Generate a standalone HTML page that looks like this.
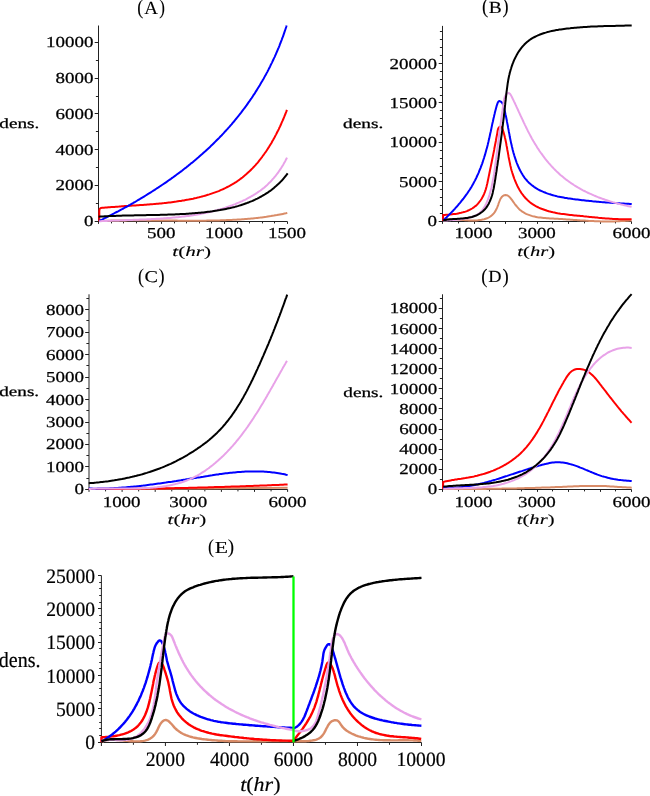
<!DOCTYPE html>
<html><head><meta charset="utf-8"><style>
html,body{margin:0;padding:0;background:#fff;overflow:hidden}
svg{display:block}
text{font-family:"Liberation Serif",serif;font-kerning:none;text-rendering:geometricPrecision;white-space:pre}
svg{will-change:transform}
</style></head><body>
<svg width="650" height="796" viewBox="0 0 650 796">
<rect width="650" height="796" fill="#fff"/>
<path d="M98.50,222.00 V25.50 M98.00,221.50 H287.40" stroke="#222" stroke-width="1" fill="none"/><path d="M94.70,221.50 H98.50 M95.90,203.50 H98.50 M94.70,185.50 H98.50 M95.90,167.50 H98.50 M94.70,149.50 H98.50 M95.90,131.50 H98.50 M94.70,113.50 H98.50 M95.90,96.50 H98.50 M94.70,78.50 H98.50 M95.90,60.50 H98.50 M94.70,42.50 H98.50 M98.50,221.50 V223.90 M111.50,221.50 V223.40 M123.50,221.50 V223.40 M136.50,221.50 V223.40 M148.50,221.50 V223.40 M161.50,221.50 V223.90 M174.50,221.50 V223.40 M186.50,221.50 V223.40 M199.50,221.50 V223.40 M211.50,221.50 V223.40 M224.50,221.50 V223.90 M237.50,221.50 V223.40 M249.50,221.50 V223.40 M262.50,221.50 V223.40 M274.50,221.50 V223.40 M287.50,221.50 V223.90 " stroke="#222" stroke-width="1" fill="none"/>
<path d="M442.50,222.00 V25.90 M442.00,221.50 H631.50" stroke="#222" stroke-width="1" fill="none"/><path d="M438.70,221.50 H442.50 M439.90,213.50 H442.50 M439.90,205.50 H442.50 M439.90,197.50 H442.50 M439.90,189.50 H442.50 M438.70,181.50 H442.50 M439.90,173.50 H442.50 M439.90,166.50 H442.50 M439.90,158.50 H442.50 M439.90,150.50 H442.50 M438.70,142.50 H442.50 M439.90,134.50 H442.50 M439.90,126.50 H442.50 M439.90,118.50 H442.50 M439.90,110.50 H442.50 M438.70,102.50 H442.50 M439.90,95.50 H442.50 M439.90,87.50 H442.50 M439.90,79.50 H442.50 M439.90,71.50 H442.50 M438.70,63.50 H442.50 M439.90,55.50 H442.50 M439.90,47.50 H442.50 M439.90,39.50 H442.50 M439.90,31.50 H442.50 M442.50,221.50 V223.90 M458.50,221.50 V223.40 M474.50,221.50 V223.90 M489.50,221.50 V223.40 M505.50,221.50 V223.90 M521.50,221.50 V223.40 M537.50,221.50 V223.90 M552.50,221.50 V223.40 M568.50,221.50 V223.90 M584.50,221.50 V223.40 M600.50,221.50 V223.90 M615.50,221.50 V223.40 M631.50,221.50 V223.90 " stroke="#222" stroke-width="1" fill="none"/>
<path d="M89.00,490.00 V294.30 M88.50,489.50 H287.60" stroke="#222" stroke-width="1" fill="none"/><path d="M85.20,489.50 H89.00 M86.40,478.50 H89.00 M85.20,466.50 H89.00 M86.40,455.50 H89.00 M85.20,444.50 H89.00 M86.40,433.50 H89.00 M85.20,422.50 H89.00 M86.40,410.50 H89.00 M85.20,399.50 H89.00 M86.40,388.50 H89.00 M85.20,377.50 H89.00 M86.40,365.50 H89.00 M85.20,354.50 H89.00 M86.40,343.50 H89.00 M85.20,332.50 H89.00 M86.40,320.50 H89.00 M85.20,309.50 H89.00 M86.40,298.50 H89.00 M89.00,489.50 V491.90 M105.55,489.50 V491.40 M122.10,489.50 V491.90 M138.65,489.50 V491.40 M155.20,489.50 V491.90 M171.75,489.50 V491.40 M188.30,489.50 V491.90 M204.85,489.50 V491.40 M221.40,489.50 V491.90 M237.95,489.50 V491.40 M254.50,489.50 V491.90 M271.05,489.50 V491.40 M287.60,489.50 V491.90 " stroke="#222" stroke-width="1" fill="none"/>
<path d="M442.50,490.00 V294.30 M442.00,489.50 H631.50" stroke="#222" stroke-width="1" fill="none"/><path d="M438.70,489.50 H442.50 M439.90,479.50 H442.50 M438.70,469.50 H442.50 M439.90,459.50 H442.50 M438.70,449.50 H442.50 M439.90,439.50 H442.50 M438.70,429.50 H442.50 M439.90,419.50 H442.50 M438.70,408.50 H442.50 M439.90,398.50 H442.50 M438.70,388.50 H442.50 M439.90,378.50 H442.50 M438.70,368.50 H442.50 M439.90,358.50 H442.50 M438.70,348.50 H442.50 M439.90,338.50 H442.50 M438.70,328.50 H442.50 M439.90,318.50 H442.50 M438.70,308.50 H442.50 M439.90,298.50 H442.50 M442.50,489.50 V491.90 M458.50,489.50 V491.40 M474.50,489.50 V491.90 M489.50,489.50 V491.40 M505.50,489.50 V491.90 M521.50,489.50 V491.40 M537.50,489.50 V491.90 M552.50,489.50 V491.40 M568.50,489.50 V491.90 M584.50,489.50 V491.40 M600.50,489.50 V491.90 M615.50,489.50 V491.40 M631.50,489.50 V491.90 " stroke="#222" stroke-width="1" fill="none"/>
<path d="M101.40,743.00 V575.50 M100.90,742.50 H421.50" stroke="#222" stroke-width="1" fill="none"/><path d="M98.00,742.50 H101.40 M99.20,735.50 H101.40 M99.20,728.50 H101.40 M99.20,722.50 H101.40 M99.20,715.50 H101.40 M98.00,708.50 H101.40 M99.20,702.50 H101.40 M99.20,695.50 H101.40 M99.20,688.50 H101.40 M99.20,682.50 H101.40 M98.00,675.50 H101.40 M99.20,668.50 H101.40 M99.20,662.50 H101.40 M99.20,655.50 H101.40 M99.20,648.50 H101.40 M98.00,642.50 H101.40 M99.20,635.50 H101.40 M99.20,628.50 H101.40 M99.20,622.50 H101.40 M99.20,615.50 H101.40 M98.00,608.50 H101.40 M99.20,602.50 H101.40 M99.20,595.50 H101.40 M99.20,588.50 H101.40 M99.20,582.50 H101.40 M98.00,575.50 H101.40 M101.40,742.50 V746.00 M133.41,742.50 V744.80 M165.42,742.50 V746.00 M197.43,742.50 V744.80 M229.44,742.50 V746.00 M261.45,742.50 V744.80 M293.46,742.50 V746.00 M325.47,742.50 V744.80 M357.48,742.50 V746.00 M389.49,742.50 V744.80 M421.50,742.50 V746.00 " stroke="#222" stroke-width="1" fill="none"/>
<g transform="translate(83.98,226.20) scale(1.2433,1)" fill="#000" stroke="#000" stroke-width="0.25" stroke-linejoin="round"><text x="0.00" y="0" font-size="15.262">0</text></g>
<g transform="translate(55.52,190.44) scale(1.2433,1)" fill="#000" stroke="#000" stroke-width="0.25" stroke-linejoin="round"><text x="0.00" y="0" font-size="15.262">2000</text></g>
<g transform="translate(55.52,154.68) scale(1.2433,1)" fill="#000" stroke="#000" stroke-width="0.25" stroke-linejoin="round"><text x="0.00" y="0" font-size="15.262">4000</text></g>
<g transform="translate(55.52,118.92) scale(1.2433,1)" fill="#000" stroke="#000" stroke-width="0.25" stroke-linejoin="round"><text x="0.00" y="0" font-size="15.262">6000</text></g>
<g transform="translate(55.52,83.16) scale(1.2433,1)" fill="#000" stroke="#000" stroke-width="0.25" stroke-linejoin="round"><text x="0.00" y="0" font-size="15.262">8000</text></g>
<g transform="translate(46.03,47.40) scale(1.2433,1)" fill="#000" stroke="#000" stroke-width="0.25" stroke-linejoin="round"><text x="0.00" y="0" font-size="15.262">10000</text></g>
<g transform="translate(427.53,226.20) scale(1.2433,1)" fill="#000" stroke="#000" stroke-width="0.25" stroke-linejoin="round"><text x="0.00" y="0" font-size="15.262">0</text></g>
<g transform="translate(399.07,186.77) scale(1.2433,1)" fill="#000" stroke="#000" stroke-width="0.25" stroke-linejoin="round"><text x="0.00" y="0" font-size="15.262">5000</text></g>
<g transform="translate(389.58,147.35) scale(1.2433,1)" fill="#000" stroke="#000" stroke-width="0.25" stroke-linejoin="round"><text x="0.00" y="0" font-size="15.262">10000</text></g>
<g transform="translate(389.58,107.92) scale(1.2433,1)" fill="#000" stroke="#000" stroke-width="0.25" stroke-linejoin="round"><text x="0.00" y="0" font-size="15.262">15000</text></g>
<g transform="translate(389.58,68.50) scale(1.2433,1)" fill="#000" stroke="#000" stroke-width="0.25" stroke-linejoin="round"><text x="0.00" y="0" font-size="15.262">20000</text></g>
<g transform="translate(74.43,494.40) scale(1.2433,1)" fill="#000" stroke="#000" stroke-width="0.25" stroke-linejoin="round"><text x="0.00" y="0" font-size="15.262">0</text></g>
<g transform="translate(45.97,471.94) scale(1.2433,1)" fill="#000" stroke="#000" stroke-width="0.25" stroke-linejoin="round"><text x="0.00" y="0" font-size="15.262">1000</text></g>
<g transform="translate(45.97,449.48) scale(1.2433,1)" fill="#000" stroke="#000" stroke-width="0.25" stroke-linejoin="round"><text x="0.00" y="0" font-size="15.262">2000</text></g>
<g transform="translate(45.97,427.02) scale(1.2433,1)" fill="#000" stroke="#000" stroke-width="0.25" stroke-linejoin="round"><text x="0.00" y="0" font-size="15.262">3000</text></g>
<g transform="translate(45.97,404.56) scale(1.2433,1)" fill="#000" stroke="#000" stroke-width="0.25" stroke-linejoin="round"><text x="0.00" y="0" font-size="15.262">4000</text></g>
<g transform="translate(45.97,382.10) scale(1.2433,1)" fill="#000" stroke="#000" stroke-width="0.25" stroke-linejoin="round"><text x="0.00" y="0" font-size="15.262">5000</text></g>
<g transform="translate(45.97,359.64) scale(1.2433,1)" fill="#000" stroke="#000" stroke-width="0.25" stroke-linejoin="round"><text x="0.00" y="0" font-size="15.262">6000</text></g>
<g transform="translate(45.97,337.18) scale(1.2433,1)" fill="#000" stroke="#000" stroke-width="0.25" stroke-linejoin="round"><text x="0.00" y="0" font-size="15.262">7000</text></g>
<g transform="translate(45.97,314.72) scale(1.2433,1)" fill="#000" stroke="#000" stroke-width="0.25" stroke-linejoin="round"><text x="0.00" y="0" font-size="15.262">8000</text></g>
<g transform="translate(427.73,494.40) scale(1.2433,1)" fill="#000" stroke="#000" stroke-width="0.25" stroke-linejoin="round"><text x="0.00" y="0" font-size="15.262">0</text></g>
<g transform="translate(399.27,474.29) scale(1.2433,1)" fill="#000" stroke="#000" stroke-width="0.25" stroke-linejoin="round"><text x="0.00" y="0" font-size="15.262">2000</text></g>
<g transform="translate(399.27,454.18) scale(1.2433,1)" fill="#000" stroke="#000" stroke-width="0.25" stroke-linejoin="round"><text x="0.00" y="0" font-size="15.262">4000</text></g>
<g transform="translate(399.27,434.06) scale(1.2433,1)" fill="#000" stroke="#000" stroke-width="0.25" stroke-linejoin="round"><text x="0.00" y="0" font-size="15.262">6000</text></g>
<g transform="translate(399.27,413.95) scale(1.2433,1)" fill="#000" stroke="#000" stroke-width="0.25" stroke-linejoin="round"><text x="0.00" y="0" font-size="15.262">8000</text></g>
<g transform="translate(389.78,393.84) scale(1.2433,1)" fill="#000" stroke="#000" stroke-width="0.25" stroke-linejoin="round"><text x="0.00" y="0" font-size="15.262">10000</text></g>
<g transform="translate(389.78,373.73) scale(1.2433,1)" fill="#000" stroke="#000" stroke-width="0.25" stroke-linejoin="round"><text x="0.00" y="0" font-size="15.262">12000</text></g>
<g transform="translate(389.78,353.62) scale(1.2433,1)" fill="#000" stroke="#000" stroke-width="0.25" stroke-linejoin="round"><text x="0.00" y="0" font-size="15.262">14000</text></g>
<g transform="translate(389.78,333.50) scale(1.2433,1)" fill="#000" stroke="#000" stroke-width="0.25" stroke-linejoin="round"><text x="0.00" y="0" font-size="15.262">16000</text></g>
<g transform="translate(389.78,313.39) scale(1.2433,1)" fill="#000" stroke="#000" stroke-width="0.25" stroke-linejoin="round"><text x="0.00" y="0" font-size="15.262">18000</text></g>
<g transform="translate(147.04,238.40) scale(1.2433,1)" fill="#000" stroke="#000" stroke-width="0.25" stroke-linejoin="round"><text x="0.00" y="0" font-size="15.262">500</text></g>
<g transform="translate(204.98,238.40) scale(1.2433,1)" fill="#000" stroke="#000" stroke-width="0.25" stroke-linejoin="round"><text x="0.00" y="0" font-size="15.262">1000</text></g>
<g transform="translate(267.95,238.40) scale(1.2433,1)" fill="#000" stroke="#000" stroke-width="0.25" stroke-linejoin="round"><text x="0.00" y="0" font-size="15.262">1500</text></g>
<g transform="translate(454.55,238.10) scale(1.2433,1)" fill="#000" stroke="#000" stroke-width="0.25" stroke-linejoin="round"><text x="0.00" y="0" font-size="15.262">1000</text></g>
<g transform="translate(517.93,238.10) scale(1.2433,1)" fill="#000" stroke="#000" stroke-width="0.25" stroke-linejoin="round"><text x="0.00" y="0" font-size="15.262">3000</text></g>
<g transform="translate(612.48,238.10) scale(1.2433,1)" fill="#000" stroke="#000" stroke-width="0.25" stroke-linejoin="round"><text x="0.00" y="0" font-size="15.262">6000</text></g>
<g transform="translate(102.65,506.50) scale(1.2433,1)" fill="#000" stroke="#000" stroke-width="0.25" stroke-linejoin="round"><text x="0.00" y="0" font-size="15.262">1000</text></g>
<g transform="translate(169.23,506.50) scale(1.2433,1)" fill="#000" stroke="#000" stroke-width="0.25" stroke-linejoin="round"><text x="0.00" y="0" font-size="15.262">3000</text></g>
<g transform="translate(268.58,506.50) scale(1.2433,1)" fill="#000" stroke="#000" stroke-width="0.25" stroke-linejoin="round"><text x="0.00" y="0" font-size="15.262">6000</text></g>
<g transform="translate(454.55,506.50) scale(1.2433,1)" fill="#000" stroke="#000" stroke-width="0.25" stroke-linejoin="round"><text x="0.00" y="0" font-size="15.262">1000</text></g>
<g transform="translate(517.93,506.50) scale(1.2433,1)" fill="#000" stroke="#000" stroke-width="0.25" stroke-linejoin="round"><text x="0.00" y="0" font-size="15.262">3000</text></g>
<g transform="translate(612.48,506.50) scale(1.2433,1)" fill="#000" stroke="#000" stroke-width="0.25" stroke-linejoin="round"><text x="0.00" y="0" font-size="15.262">6000</text></g>
<g transform="translate(137.21,13.54) scale(0.8547,1)" fill="#000" stroke="#000" stroke-width="0.10" stroke-linejoin="round"><text x="0.00" y="0" font-size="20.954">(</text></g><g transform="translate(144.31,13.90) scale(1.0200,1)" fill="#000" stroke="#000" stroke-width="0.10" stroke-linejoin="round"><text x="0.00" y="0" font-size="18.632">A</text></g><g transform="translate(159.15,13.54) scale(0.8176,1)" fill="#000" stroke="#000" stroke-width="0.10" stroke-linejoin="round"><text x="0.00" y="0" font-size="20.954">)</text></g>
<g transform="translate(481.88,13.24) scale(0.8919,1)" fill="#000" stroke="#000" stroke-width="0.10" stroke-linejoin="round"><text x="0.00" y="0" font-size="20.954">(</text></g><g transform="translate(488.84,13.40) scale(1.1511,1)" fill="#000" stroke="#000" stroke-width="0.10" stroke-linejoin="round"><text x="0.00" y="0" font-size="16.952">B</text></g><g transform="translate(502.61,13.24) scale(0.8733,1)" fill="#000" stroke="#000" stroke-width="0.10" stroke-linejoin="round"><text x="0.00" y="0" font-size="20.954">)</text></g>
<g transform="translate(138.11,282.74) scale(0.8547,1)" fill="#000" stroke="#000" stroke-width="0.10" stroke-linejoin="round"><text x="0.00" y="0" font-size="20.954">(</text></g><g transform="translate(144.57,281.90) scale(1.2238,1)" fill="#000" stroke="#000" stroke-width="0.10" stroke-linejoin="round"><text x="0.00" y="0" font-size="16.463">C</text></g><g transform="translate(158.61,282.74) scale(0.8733,1)" fill="#000" stroke="#000" stroke-width="0.10" stroke-linejoin="round"><text x="0.00" y="0" font-size="20.954">)</text></g>
<g transform="translate(481.18,282.66) scale(0.9160,1)" fill="#000" stroke="#000" stroke-width="0.10" stroke-linejoin="round"><text x="0.00" y="0" font-size="20.403">(</text></g><g transform="translate(488.37,282.10) scale(1.0835,1)" fill="#000" stroke="#000" stroke-width="0.10" stroke-linejoin="round"><text x="0.00" y="0" font-size="16.952">D</text></g><g transform="translate(502.60,282.66) scale(0.9160,1)" fill="#000" stroke="#000" stroke-width="0.10" stroke-linejoin="round"><text x="0.00" y="0" font-size="20.403">)</text></g>
<g transform="translate(208.11,552.97) scale(0.9022,1)" fill="#000" stroke="#000" stroke-width="0.10" stroke-linejoin="round"><text x="0.00" y="0" font-size="19.851">(</text></g><g transform="translate(214.78,552.50) scale(1.2862,1)" fill="#000" stroke="#000" stroke-width="0.10" stroke-linejoin="round"><text x="0.00" y="0" font-size="16.799">E</text></g><g transform="translate(227.69,552.97) scale(0.9611,1)" fill="#000" stroke="#000" stroke-width="0.10" stroke-linejoin="round"><text x="0.00" y="0" font-size="19.851">)</text></g>
<g transform="translate(172.27,255.50) scale(1.5166,1)" fill="#000" stroke="#000" stroke-width="0.10" stroke-linejoin="round"><text x="0.00" y="0" font-size="13.980" font-style="italic">t</text><text x="3.88" y="0" font-size="13.980">(</text><text x="8.54" y="0" font-size="13.980" font-style="italic">hr</text><text x="20.97" y="0" font-size="13.980">)</text></g>
<g transform="translate(517.29,255.50) scale(1.4756,1)" fill="#000" stroke="#000" stroke-width="0.10" stroke-linejoin="round"><text x="0.00" y="0" font-size="13.980" font-style="italic">t</text><text x="3.88" y="0" font-size="13.980">(</text><text x="8.54" y="0" font-size="13.980" font-style="italic">hr</text><text x="20.97" y="0" font-size="13.980">)</text></g>
<g transform="translate(167.57,523.90) scale(1.5084,1)" fill="#000" stroke="#000" stroke-width="0.10" stroke-linejoin="round"><text x="0.00" y="0" font-size="13.980" font-style="italic">t</text><text x="3.88" y="0" font-size="13.980">(</text><text x="8.54" y="0" font-size="13.980" font-style="italic">hr</text><text x="20.97" y="0" font-size="13.980">)</text></g>
<g transform="translate(516.80,523.90) scale(1.4715,1)" fill="#000" stroke="#000" stroke-width="0.10" stroke-linejoin="round"><text x="0.00" y="0" font-size="13.980" font-style="italic">t</text><text x="3.88" y="0" font-size="13.980">(</text><text x="8.54" y="0" font-size="13.980" font-style="italic">hr</text><text x="20.97" y="0" font-size="13.980">)</text></g>
<g transform="translate(240.13,791.20) scale(1.0984,1)" fill="#000" stroke="#000" stroke-width="0.15" stroke-linejoin="round"><text x="0.00" y="0" font-size="20.033" font-style="italic">t</text><text x="5.57" y="0" font-size="20.033">(</text><text x="12.24" y="0" font-size="20.033" font-style="italic">hr</text><text x="30.05" y="0" font-size="20.033">)</text></g>
<g transform="translate(-0.69,128.20) scale(1.3617,1)" fill="#000" stroke="#000" stroke-width="0.25" stroke-linejoin="round"><text x="0.00" y="0" font-size="14.124">dens.</text></g>
<g transform="translate(343.10,128.00) scale(1.4121,1)" fill="#000" stroke="#000" stroke-width="0.25" stroke-linejoin="round"><text x="0.00" y="0" font-size="13.692">dens.</text></g>
<g transform="translate(-0.69,396.40) scale(1.3828,1)" fill="#000" stroke="#000" stroke-width="0.25" stroke-linejoin="round"><text x="0.00" y="0" font-size="13.836">dens.</text></g>
<g transform="translate(343.31,396.70) scale(1.3758,1)" fill="#000" stroke="#000" stroke-width="0.25" stroke-linejoin="round"><text x="0.00" y="0" font-size="13.980">dens.</text></g>
<g transform="translate(-1.22,666.50) scale(0.9270,1)" fill="#000" stroke="#000" stroke-width="0.20" stroke-linejoin="round"><text x="0.00" y="0" font-size="21.619">dens.</text></g>
<g transform="translate(85.34,749.40) scale(0.9586,1)" fill="#000" stroke="#000" stroke-width="0.20" stroke-linejoin="round"><text x="0.00" y="0" font-size="20.450">0</text></g>
<g transform="translate(55.94,716.02) scale(0.9586,1)" fill="#000" stroke="#000" stroke-width="0.20" stroke-linejoin="round"><text x="0.00" y="0" font-size="20.450">5000</text></g>
<g transform="translate(46.14,682.64) scale(0.9586,1)" fill="#000" stroke="#000" stroke-width="0.20" stroke-linejoin="round"><text x="0.00" y="0" font-size="20.450">10000</text></g>
<g transform="translate(46.14,649.26) scale(0.9586,1)" fill="#000" stroke="#000" stroke-width="0.20" stroke-linejoin="round"><text x="0.00" y="0" font-size="20.450">15000</text></g>
<g transform="translate(46.14,615.88) scale(0.9586,1)" fill="#000" stroke="#000" stroke-width="0.20" stroke-linejoin="round"><text x="0.00" y="0" font-size="20.450">20000</text></g>
<g transform="translate(46.14,582.50) scale(0.9586,1)" fill="#000" stroke="#000" stroke-width="0.20" stroke-linejoin="round"><text x="0.00" y="0" font-size="20.450">25000</text></g>
<g transform="translate(145.76,766.40) scale(0.9586,1)" fill="#000" stroke="#000" stroke-width="0.20" stroke-linejoin="round"><text x="0.00" y="0" font-size="20.450">2000</text></g>
<g transform="translate(210.02,766.40) scale(0.9586,1)" fill="#000" stroke="#000" stroke-width="0.20" stroke-linejoin="round"><text x="0.00" y="0" font-size="20.450">4000</text></g>
<g transform="translate(273.81,766.40) scale(0.9586,1)" fill="#000" stroke="#000" stroke-width="0.20" stroke-linejoin="round"><text x="0.00" y="0" font-size="20.450">6000</text></g>
<g transform="translate(337.88,766.40) scale(0.9586,1)" fill="#000" stroke="#000" stroke-width="0.20" stroke-linejoin="round"><text x="0.00" y="0" font-size="20.450">8000</text></g>
<g transform="translate(396.51,766.40) scale(0.9586,1)" fill="#000" stroke="#000" stroke-width="0.20" stroke-linejoin="round"><text x="0.00" y="0" font-size="20.450">10000</text></g>
<path d="M99.0,221.1 L100.5,221.0 L102.1,220.9 L103.6,220.9 L105.1,220.8 L106.6,220.8 L108.1,220.7 L109.6,220.7 L111.2,220.6 L112.7,220.6 L114.2,220.5 L115.7,220.5 L117.2,220.5 L118.8,220.5 L120.3,220.4 L121.8,220.4 L123.3,220.4 L124.8,220.4 L126.4,220.4 L127.9,220.3 L129.4,220.3 L130.9,220.3 L132.5,220.3 L134.0,220.3 L135.5,220.3 L137.0,220.3 L138.6,220.3 L140.1,220.3 L141.6,220.3 L143.1,220.3 L144.7,220.3 L146.2,220.3 L147.7,220.4 L149.2,220.4 L150.8,220.4 L152.3,220.4 L153.8,220.4 L155.3,220.4 L156.9,220.4 L158.4,220.4 L159.9,220.5 L161.4,220.5 L163.0,220.5 L164.5,220.5 L166.0,220.5 L167.5,220.5 L169.1,220.6 L170.6,220.6 L172.1,220.6 L173.6,220.6 L175.2,220.6 L176.7,220.6 L178.2,220.7 L179.8,220.7 L181.3,220.7 L182.8,220.7 L184.3,220.7 L185.9,220.7 L187.4,220.7 L188.9,220.7 L190.4,220.7 L192.0,220.7 L193.5,220.7 L195.0,220.7 L196.5,220.7 L198.1,220.7 L199.6,220.7 L201.1,220.7 L202.6,220.7 L204.2,220.7 L205.7,220.7 L207.2,220.6 L208.7,220.6 L210.3,220.6 L211.8,220.6 L213.3,220.5 L214.8,220.5 L216.4,220.5 L217.9,220.4 L219.4,220.4 L220.9,220.3 L222.4,220.3 L224.0,220.2 L225.5,220.2 L227.0,220.1 L228.5,220.0 L230.0,220.0 L231.6,219.9 L233.1,219.8 L234.6,219.7 L236.1,219.7 L237.6,219.6 L239.1,219.5 L240.7,219.4 L242.2,219.3 L243.7,219.2 L245.2,219.0 L246.7,218.9 L248.2,218.8 L249.8,218.7 L251.3,218.5 L252.8,218.4 L254.3,218.2 L255.8,218.1 L257.3,217.9 L258.8,217.7 L260.3,217.6 L261.8,217.4 L263.3,217.2 L264.9,217.0 L266.4,216.8 L267.9,216.5 L269.4,216.3 L270.9,216.1 L272.4,215.8 L273.9,215.6 L275.4,215.3 L276.9,215.1 L278.4,214.8 L279.9,214.5 L281.4,214.2 L282.9,213.9 L284.4,213.6 L285.9,213.3 L287.3,212.9 " stroke="#d98c68" stroke-width="2.00" fill="none" stroke-linejoin="round" stroke-linecap="butt"/>
<path d="M99.30,221.20 L99.30,210.60 L99.30,210.60 L99.70,208.80 L100.80,208.00 L100.8,208.0 L102.4,207.8 L103.9,207.7 L105.4,207.6 L106.9,207.5 L108.4,207.3 L109.9,207.2 L111.4,207.1 L112.9,207.0 L114.4,206.9 L115.9,206.8 L117.4,206.7 L118.9,206.6 L120.4,206.4 L121.9,206.3 L123.4,206.2 L124.9,206.1 L126.5,206.0 L128.0,205.9 L129.5,205.8 L131.0,205.7 L132.5,205.6 L134.0,205.5 L135.5,205.4 L137.0,205.3 L138.5,205.2 L140.0,205.1 L141.5,205.0 L143.0,204.9 L144.5,204.8 L146.0,204.7 L147.5,204.6 L149.0,204.5 L150.5,204.3 L152.1,204.2 L153.6,204.1 L155.1,203.9 L156.6,203.8 L158.1,203.7 L159.6,203.5 L161.1,203.4 L162.7,203.2 L164.2,203.1 L165.7,202.9 L167.2,202.7 L168.8,202.5 L170.3,202.4 L171.8,202.2 L173.3,202.0 L174.9,201.8 L176.4,201.6 L177.9,201.3 L179.5,201.1 L181.0,200.9 L182.5,200.6 L184.0,200.4 L185.5,200.1 L187.1,199.8 L188.6,199.6 L190.1,199.3 L191.6,199.0 L193.1,198.7 L194.6,198.3 L196.1,198.0 L197.6,197.6 L199.1,197.3 L200.6,196.9 L202.0,196.5 L203.5,196.1 L205.0,195.7 L206.4,195.3 L207.9,194.8 L209.3,194.4 L210.8,193.9 L212.2,193.4 L213.6,192.9 L215.1,192.4 L216.5,191.9 L217.9,191.4 L219.3,190.8 L220.6,190.2 L222.0,189.6 L223.4,189.0 L224.7,188.4 L226.1,187.7 L227.4,187.0 L228.7,186.4 L230.0,185.7 L231.3,184.9 L232.6,184.2 L233.9,183.4 L235.1,182.6 L236.4,181.8 L237.6,181.0 L238.8,180.2 L240.0,179.3 L241.2,178.4 L242.4,177.5 L243.6,176.5 L244.7,175.6 L245.9,174.6 L247.0,173.6 L248.1,172.6 L249.2,171.6 L250.3,170.5 L251.3,169.5 L252.4,168.4 L253.4,167.3 L254.5,166.2 L255.5,165.1 L256.5,163.9 L257.5,162.8 L258.5,161.6 L259.4,160.4 L260.4,159.2 L261.3,158.0 L262.2,156.8 L263.1,155.5 L264.0,154.3 L264.9,153.0 L265.8,151.8 L266.7,150.5 L267.5,149.2 L268.3,147.9 L269.2,146.6 L270.0,145.3 L270.8,144.0 L271.6,142.7 L272.3,141.3 L273.1,140.0 L273.9,138.6 L274.6,137.3 L275.3,135.9 L276.0,134.6 L276.7,133.2 L277.4,131.8 L278.1,130.5 L278.8,129.1 L279.4,127.7 L280.1,126.4 L280.7,125.0 L281.3,123.6 L281.9,122.2 L282.5,120.9 L283.1,119.5 L283.7,118.1 L284.3,116.7 L284.8,115.4 L285.4,114.0 L285.9,112.6 L286.4,111.3 L286.9,109.9 " stroke="#ff0000" stroke-width="2.00" fill="none" stroke-linejoin="round" stroke-linecap="butt"/>
<path d="M99.4,220.9 L100.7,220.2 L102.0,219.6 L103.4,218.9 L104.7,218.2 L106.1,217.6 L107.4,216.9 L108.7,216.2 L110.1,215.5 L111.4,214.8 L112.7,214.1 L114.1,213.4 L115.4,212.7 L116.7,212.0 L118.1,211.3 L119.4,210.6 L120.7,209.9 L122.1,209.2 L123.4,208.5 L124.7,207.7 L126.0,207.0 L127.4,206.3 L128.7,205.5 L130.0,204.8 L131.3,204.0 L132.6,203.3 L133.9,202.5 L135.2,201.8 L136.6,201.0 L137.9,200.2 L139.2,199.5 L140.5,198.7 L141.8,197.9 L143.1,197.1 L144.4,196.3 L145.7,195.5 L147.0,194.7 L148.2,193.9 L149.5,193.1 L150.8,192.3 L152.1,191.5 L153.4,190.7 L154.7,189.9 L155.9,189.0 L157.2,188.2 L158.5,187.4 L159.7,186.5 L161.0,185.7 L162.3,184.8 L163.5,184.0 L164.8,183.1 L166.0,182.3 L167.3,181.4 L168.5,180.5 L169.8,179.6 L171.0,178.8 L172.2,177.9 L173.5,177.0 L174.7,176.1 L175.9,175.2 L177.1,174.3 L178.4,173.4 L179.6,172.5 L180.8,171.6 L182.0,170.7 L183.2,169.7 L184.4,168.8 L185.6,167.9 L186.8,166.9 L188.0,166.0 L189.1,165.0 L190.3,164.1 L191.5,163.1 L192.7,162.2 L193.8,161.2 L195.0,160.2 L196.2,159.2 L197.3,158.3 L198.5,157.3 L199.6,156.3 L200.7,155.3 L201.9,154.3 L203.0,153.3 L204.1,152.3 L205.3,151.3 L206.4,150.2 L207.5,149.2 L208.6,148.2 L209.7,147.2 L210.8,146.1 L211.9,145.1 L213.0,144.0 L214.0,143.0 L215.1,141.9 L216.2,140.8 L217.2,139.8 L218.3,138.7 L219.4,137.6 L220.4,136.5 L221.5,135.5 L222.5,134.4 L223.5,133.3 L224.5,132.2 L225.6,131.0 L226.6,129.9 L227.6,128.8 L228.6,127.7 L229.6,126.6 L230.6,125.4 L231.6,124.3 L232.5,123.1 L233.5,122.0 L234.5,120.8 L235.4,119.7 L236.4,118.5 L237.3,117.3 L238.3,116.2 L239.2,115.0 L240.1,113.8 L241.1,112.6 L242.0,111.4 L242.9,110.2 L243.8,109.0 L244.7,107.8 L245.6,106.6 L246.5,105.4 L247.4,104.1 L248.2,102.9 L249.1,101.7 L250.0,100.4 L250.8,99.2 L251.7,98.0 L252.5,96.7 L253.3,95.4 L254.2,94.2 L255.0,92.9 L255.8,91.6 L256.6,90.4 L257.4,89.1 L258.2,87.8 L259.0,86.5 L259.8,85.2 L260.5,83.9 L261.3,82.6 L262.1,81.3 L262.8,80.0 L263.6,78.7 L264.3,77.4 L265.0,76.1 L265.8,74.7 L266.5,73.4 L267.2,72.1 L267.9,70.7 L268.6,69.4 L269.3,68.0 L270.0,66.7 L270.6,65.3 L271.3,63.9 L272.0,62.6 L272.6,61.2 L273.3,59.8 L273.9,58.4 L274.6,57.1 L275.2,55.7 L275.8,54.3 L276.4,52.9 L277.0,51.5 L277.6,50.1 L278.2,48.7 L278.8,47.3 L279.4,45.8 L279.9,44.4 L280.5,43.0 L281.0,41.6 L281.6,40.1 L282.1,38.7 L282.7,37.2 L283.2,35.8 L283.7,34.4 L284.2,32.9 L284.7,31.4 L285.2,30.0 L285.7,28.5 L286.2,27.0 L286.6,25.6 " stroke="#0000ff" stroke-width="2.00" fill="none" stroke-linejoin="round" stroke-linecap="butt"/>
<path d="M99.2,221.2 L100.7,221.2 L102.1,221.1 L103.6,221.0 L105.1,220.9 L106.6,220.9 L108.1,220.8 L109.6,220.7 L111.0,220.7 L112.5,220.6 L114.0,220.5 L115.5,220.5 L117.0,220.4 L118.5,220.4 L120.0,220.3 L121.5,220.3 L123.1,220.2 L124.6,220.2 L126.1,220.1 L127.6,220.0 L129.1,220.0 L130.6,219.9 L132.1,219.9 L133.7,219.8 L135.2,219.8 L136.7,219.7 L138.2,219.7 L139.7,219.6 L141.3,219.6 L142.8,219.5 L144.3,219.4 L145.8,219.4 L147.4,219.3 L148.9,219.2 L150.4,219.2 L152.0,219.1 L153.5,219.0 L155.0,218.9 L156.5,218.8 L158.1,218.7 L159.6,218.7 L161.1,218.6 L162.6,218.5 L164.2,218.3 L165.7,218.2 L167.2,218.1 L168.8,218.0 L170.3,217.9 L171.8,217.7 L173.3,217.6 L174.8,217.5 L176.4,217.3 L177.9,217.2 L179.4,217.0 L180.9,216.8 L182.4,216.6 L183.9,216.5 L185.5,216.3 L187.0,216.1 L188.5,215.9 L190.0,215.7 L191.5,215.4 L193.0,215.2 L194.5,215.0 L196.0,214.7 L197.5,214.5 L199.0,214.2 L200.5,213.9 L201.9,213.6 L203.4,213.3 L204.9,213.0 L206.4,212.7 L207.9,212.4 L209.3,212.1 L210.8,211.7 L212.3,211.4 L213.7,211.0 L215.2,210.6 L216.6,210.2 L218.1,209.8 L219.5,209.4 L221.0,209.0 L222.4,208.6 L223.9,208.1 L225.3,207.7 L226.7,207.2 L228.2,206.7 L229.6,206.2 L231.0,205.7 L232.4,205.2 L233.8,204.6 L235.2,204.1 L236.6,203.5 L238.0,202.9 L239.4,202.3 L240.8,201.7 L242.2,201.1 L243.5,200.4 L244.9,199.8 L246.3,199.1 L247.6,198.4 L248.9,197.7 L250.3,197.0 L251.6,196.2 L252.9,195.5 L254.2,194.7 L255.5,193.9 L256.8,193.0 L258.0,192.2 L259.3,191.3 L260.5,190.5 L261.7,189.6 L262.9,188.6 L264.1,187.7 L265.2,186.7 L266.3,185.7 L267.5,184.7 L268.5,183.6 L269.6,182.6 L270.7,181.5 L271.7,180.4 L272.7,179.2 L273.7,178.1 L274.7,176.9 L275.6,175.8 L276.6,174.5 L277.5,173.3 L278.4,172.1 L279.3,170.8 L280.1,169.6 L281.0,168.3 L281.8,167.0 L282.6,165.7 L283.4,164.4 L284.1,163.1 L284.9,161.7 L285.6,160.4 L286.3,159.0 L287.0,157.6 " stroke="#e8a2e8" stroke-width="2.00" fill="none" stroke-linejoin="round" stroke-linecap="butt"/>
<path d="M98.7,216.7 L100.2,216.6 L101.7,216.5 L103.2,216.4 L104.7,216.3 L106.2,216.3 L107.7,216.2 L109.2,216.1 L110.7,216.0 L112.2,216.0 L113.7,215.9 L115.2,215.9 L116.7,215.8 L118.2,215.8 L119.7,215.7 L121.2,215.7 L122.7,215.6 L124.3,215.6 L125.8,215.5 L127.3,215.5 L128.8,215.5 L130.3,215.4 L131.8,215.4 L133.3,215.4 L134.9,215.3 L136.4,215.3 L137.9,215.3 L139.4,215.3 L140.9,215.2 L142.4,215.2 L144.0,215.2 L145.5,215.2 L147.0,215.1 L148.5,215.1 L150.0,215.1 L151.6,215.0 L153.1,215.0 L154.6,215.0 L156.1,215.0 L157.6,214.9 L159.2,214.9 L160.7,214.8 L162.2,214.8 L163.7,214.8 L165.3,214.7 L166.8,214.7 L168.3,214.6 L169.8,214.6 L171.3,214.5 L172.9,214.5 L174.4,214.4 L175.9,214.3 L177.4,214.3 L179.0,214.2 L180.5,214.1 L182.0,214.0 L183.5,214.0 L185.1,213.9 L186.6,213.8 L188.1,213.7 L189.6,213.6 L191.2,213.5 L192.7,213.3 L194.2,213.2 L195.7,213.1 L197.2,213.0 L198.8,212.8 L200.3,212.7 L201.8,212.5 L203.3,212.4 L204.9,212.2 L206.4,212.0 L207.9,211.8 L209.4,211.7 L210.9,211.5 L212.4,211.3 L214.0,211.0 L215.5,210.8 L217.0,210.6 L218.5,210.3 L220.0,210.1 L221.5,209.8 L223.0,209.5 L224.5,209.2 L226.0,208.9 L227.5,208.6 L228.9,208.3 L230.4,208.0 L231.9,207.6 L233.4,207.2 L234.8,206.9 L236.3,206.5 L237.7,206.1 L239.2,205.6 L240.6,205.2 L242.0,204.7 L243.5,204.3 L244.9,203.8 L246.3,203.3 L247.7,202.7 L249.1,202.2 L250.5,201.6 L251.9,201.1 L253.3,200.5 L254.6,199.9 L256.0,199.2 L257.3,198.6 L258.7,197.9 L260.0,197.2 L261.3,196.5 L262.6,195.7 L263.9,195.0 L265.2,194.2 L266.4,193.4 L267.7,192.6 L268.9,191.7 L270.2,190.9 L271.4,190.0 L272.6,189.0 L273.8,188.1 L274.9,187.1 L276.1,186.1 L277.2,185.1 L278.3,184.1 L279.4,183.0 L280.5,181.9 L281.6,180.8 L282.7,179.6 L283.7,178.4 L284.7,177.2 L285.7,176.0 L286.7,174.7 L287.7,173.4 " stroke="#000000" stroke-width="2.00" fill="none" stroke-linejoin="round" stroke-linecap="butt"/>
<path d="M443.1,220.8 L443.9,220.4 L444.8,220.1 L445.8,219.9 L446.9,219.7 L448.1,219.5 L449.4,219.5 L450.7,219.4 L452.1,219.4 L453.6,219.5 L455.2,219.6 L456.8,219.6 L458.4,219.7 L460.1,219.9 L461.8,220.0 L463.6,220.1 L465.4,220.2 L467.1,220.3 L468.9,220.4 L470.7,220.4 L472.5,220.4 L474.2,220.4 L476.0,220.4 L477.7,220.3 L479.4,220.1 L481.0,219.9 L482.6,219.6 L484.2,219.3 L485.6,218.8 L487.0,218.3 L488.4,217.7 L489.6,217.0 L490.8,216.2 L491.9,215.3 L492.9,214.3 L493.8,213.3 L494.7,212.1 L495.5,210.9 L496.2,209.5 L496.9,208.1 L497.5,206.7 L498.1,205.1 L498.6,203.5 L499.2,202.0 L499.8,200.5 L500.4,199.0 L501.2,197.8 L502.0,196.7 L503.1,195.8 L504.3,195.2 L505.5,195.0 L506.7,195.2 L507.9,195.7 L509.0,196.5 L510.1,197.6 L511.1,198.9 L512.1,200.2 L513.1,201.6 L514.1,203.0 L515.0,204.3 L516.0,205.5 L517.0,206.7 L518.0,207.8 L519.0,208.9 L520.1,209.9 L521.2,210.8 L522.3,211.7 L523.6,212.4 L524.8,213.1 L526.1,213.8 L527.4,214.4 L528.8,214.9 L530.2,215.4 L531.6,215.9 L533.0,216.3 L534.5,216.6 L536.0,216.9 L537.5,217.2 L539.0,217.4 L540.6,217.6 L542.1,217.8 L543.7,218.0 L545.2,218.1 L546.8,218.2 L548.4,218.3 L549.9,218.4 L551.5,218.5 L553.1,218.6 L554.6,218.7 L556.1,218.8 L557.7,218.8 L559.2,218.9 L560.7,219.0 L562.1,219.1 L563.6,219.2 L565.1,219.3 L566.5,219.4 L568.0,219.5 L569.4,219.6 L570.8,219.7 L572.3,219.8 L573.7,219.9 L575.1,220.0 L576.5,220.1 L577.9,220.2 L579.3,220.3 L580.7,220.4 L582.1,220.5 L583.5,220.6 L584.9,220.6 L586.3,220.7 L587.7,220.8 L589.1,220.9 L590.6,221.0 L592.0,221.0 L593.4,221.1 L594.8,221.2 L596.3,221.2 L597.7,221.3 L599.2,221.3 L600.7,221.4 L602.1,221.4 L603.6,221.4 L605.1,221.4 L606.6,221.5 L608.2,221.5 L609.7,221.4 L611.3,221.4 L612.8,221.4 L614.4,221.4 L616.1,221.3 L617.7,221.3 L619.3,221.2 L621.0,221.1 L622.7,221.0 L624.4,220.9 L626.1,220.8 L627.9,220.7 L629.7,220.6 L631.5,220.4 " stroke="#d98c68" stroke-width="2.00" fill="none" stroke-linejoin="round" stroke-linecap="butt"/>
<path d="M443.10,221.10 L443.10,215.00 L443.1,214.9 L444.6,214.9 L446.1,214.8 L447.6,214.7 L449.1,214.6 L450.6,214.4 L452.1,214.3 L453.6,214.1 L455.2,213.9 L456.7,213.7 L458.2,213.4 L459.7,213.1 L461.1,212.8 L462.6,212.4 L464.0,212.0 L465.5,211.6 L466.9,211.1 L468.2,210.5 L469.6,209.9 L470.9,209.2 L472.1,208.5 L473.4,207.7 L474.5,206.8 L475.7,205.9 L476.8,204.9 L477.8,203.9 L478.8,202.7 L479.7,201.5 L480.6,200.3 L481.5,199.0 L482.2,197.7 L483.0,196.3 L483.6,195.0 L484.2,193.6 L484.8,192.1 L485.3,190.7 L485.8,189.3 L486.2,187.8 L486.6,186.4 L486.9,184.9 L487.3,183.5 L487.6,182.0 L487.9,180.5 L488.2,179.1 L488.5,177.6 L488.8,176.1 L489.1,174.7 L489.4,173.2 L489.7,171.7 L490.0,170.3 L490.3,168.8 L490.6,167.4 L490.9,165.9 L491.2,164.4 L491.5,163.0 L491.8,161.5 L492.1,160.0 L492.4,158.5 L492.7,157.1 L493.0,155.6 L493.3,154.1 L493.6,152.6 L493.9,151.2 L494.2,149.7 L494.4,148.2 L494.7,146.7 L495.0,145.2 L495.3,143.7 L495.6,142.2 L495.9,140.7 L496.1,139.2 L496.4,137.7 L496.7,136.1 L497.0,134.6 L497.3,133.1 L497.5,131.6 L497.8,130.0 L498.2,128.6 L499.0,127.4 L500.2,126.6 L501.2,126.7 L502.0,127.6 L502.5,129.0 L503.0,130.5 L503.5,132.0 L503.9,133.5 L504.3,135.0 L504.7,136.5 L505.0,138.0 L505.4,139.5 L505.7,141.0 L506.0,142.4 L506.3,143.9 L506.5,145.4 L506.8,146.8 L507.1,148.3 L507.3,149.7 L507.6,151.2 L507.9,152.6 L508.1,154.1 L508.4,155.5 L508.6,157.0 L508.9,158.5 L509.2,159.9 L509.5,161.4 L509.8,162.8 L510.1,164.3 L510.4,165.8 L510.8,167.2 L511.1,168.7 L511.5,170.2 L512.0,171.7 L512.4,173.1 L512.9,174.6 L513.4,176.1 L513.9,177.6 L514.4,179.0 L515.0,180.5 L515.6,181.9 L516.2,183.4 L516.9,184.8 L517.5,186.2 L518.2,187.5 L519.0,188.9 L519.7,190.2 L520.5,191.5 L521.3,192.8 L522.2,194.0 L523.1,195.2 L524.0,196.4 L525.0,197.5 L525.9,198.6 L527.0,199.6 L528.0,200.6 L529.1,201.6 L530.2,202.5 L531.4,203.3 L532.5,204.2 L533.7,204.9 L535.0,205.7 L536.2,206.4 L537.5,207.0 L538.8,207.7 L540.2,208.3 L541.5,208.8 L542.9,209.3 L544.3,209.8 L545.7,210.3 L547.2,210.8 L548.6,211.2 L550.1,211.6 L551.6,211.9 L553.0,212.3 L554.5,212.6 L556.1,212.9 L557.6,213.2 L559.1,213.4 L560.6,213.7 L562.2,213.9 L563.7,214.1 L565.3,214.3 L566.8,214.5 L568.4,214.7 L569.9,214.9 L571.5,215.0 L573.0,215.2 L574.6,215.4 L576.1,215.5 L577.7,215.7 L579.2,215.8 L580.7,216.0 L582.2,216.1 L583.7,216.3 L585.2,216.4 L586.7,216.6 L588.2,216.7 L589.6,216.9 L591.1,217.0 L592.6,217.2 L594.0,217.3 L595.5,217.5 L597.0,217.6 L598.4,217.8 L599.9,217.9 L601.3,218.0 L602.8,218.2 L604.2,218.3 L605.7,218.4 L607.2,218.5 L608.6,218.6 L610.1,218.7 L611.6,218.8 L613.0,218.9 L614.5,219.0 L616.0,219.0 L617.5,219.1 L619.0,219.2 L620.6,219.2 L622.1,219.2 L623.6,219.2 L625.2,219.3 L626.8,219.2 L628.4,219.2 L629.9,219.2 L631.6,219.2 " stroke="#ff0000" stroke-width="2.00" fill="none" stroke-linejoin="round" stroke-linecap="butt"/>
<path d="M443.1,220.6 L444.2,219.6 L445.3,218.5 L446.4,217.5 L447.5,216.4 L448.5,215.3 L449.6,214.3 L450.7,213.2 L451.7,212.1 L452.8,211.0 L453.8,209.9 L454.8,208.8 L455.8,207.6 L456.9,206.5 L457.9,205.4 L458.8,204.2 L459.8,203.1 L460.8,201.9 L461.7,200.7 L462.7,199.5 L463.6,198.4 L464.5,197.2 L465.4,195.9 L466.3,194.7 L467.2,193.5 L468.0,192.2 L468.8,191.0 L469.7,189.7 L470.5,188.4 L471.3,187.2 L472.0,185.9 L472.8,184.6 L473.5,183.2 L474.2,181.9 L474.9,180.6 L475.6,179.2 L476.3,177.9 L476.9,176.5 L477.5,175.1 L478.2,173.7 L478.8,172.3 L479.3,170.9 L479.9,169.5 L480.5,168.1 L481.0,166.7 L481.5,165.3 L482.1,163.8 L482.6,162.4 L483.0,161.0 L483.5,159.5 L484.0,158.1 L484.4,156.6 L484.9,155.2 L485.3,153.7 L485.7,152.2 L486.1,150.8 L486.5,149.3 L486.9,147.9 L487.3,146.4 L487.7,144.9 L488.0,143.5 L488.4,142.0 L488.7,140.5 L489.1,139.1 L489.4,137.6 L489.7,136.2 L490.0,134.7 L490.3,133.2 L490.7,131.8 L491.0,130.3 L491.3,128.9 L491.6,127.4 L491.9,125.9 L492.2,124.4 L492.5,123.0 L492.9,121.5 L493.2,120.0 L493.5,118.5 L493.9,117.0 L494.2,115.5 L494.6,114.0 L494.9,112.5 L495.3,111.0 L495.7,109.5 L496.1,107.9 L496.5,106.4 L497.0,104.8 L497.5,103.4 L498.0,102.1 L498.8,101.3 L499.7,101.1 L500.8,101.6 L501.8,102.5 L502.6,103.6 L503.2,105.0 L503.7,106.5 L504.1,108.1 L504.5,109.7 L504.9,111.3 L505.2,112.9 L505.5,114.4 L505.9,116.0 L506.2,117.5 L506.5,119.0 L506.8,120.4 L507.0,121.9 L507.3,123.4 L507.6,124.8 L507.9,126.3 L508.1,127.7 L508.4,129.1 L508.7,130.6 L508.9,132.0 L509.2,133.4 L509.5,134.8 L509.7,136.3 L510.0,137.7 L510.3,139.2 L510.6,140.6 L510.9,142.1 L511.2,143.6 L511.6,145.0 L511.9,146.5 L512.3,148.0 L512.6,149.5 L513.0,151.1 L513.4,152.6 L513.9,154.1 L514.3,155.6 L514.8,157.1 L515.3,158.6 L515.8,160.1 L516.3,161.6 L516.8,163.0 L517.4,164.5 L518.0,165.9 L518.6,167.3 L519.3,168.7 L519.9,170.1 L520.7,171.4 L521.4,172.8 L522.2,174.1 L522.9,175.3 L523.8,176.6 L524.6,177.8 L525.5,178.9 L526.5,180.0 L527.4,181.1 L528.4,182.2 L529.5,183.2 L530.5,184.1 L531.6,185.0 L532.8,185.9 L534.0,186.8 L535.2,187.6 L536.4,188.4 L537.6,189.1 L538.9,189.8 L540.2,190.5 L541.6,191.1 L542.9,191.7 L544.3,192.3 L545.7,192.8 L547.1,193.4 L548.5,193.9 L550.0,194.3 L551.4,194.8 L552.9,195.2 L554.4,195.6 L555.9,196.0 L557.4,196.4 L559.0,196.7 L560.5,197.0 L562.0,197.3 L563.6,197.6 L565.1,197.9 L566.7,198.1 L568.2,198.4 L569.8,198.6 L571.3,198.8 L572.9,199.1 L574.4,199.3 L576.0,199.5 L577.5,199.6 L579.0,199.8 L580.6,200.0 L582.1,200.2 L583.6,200.3 L585.1,200.5 L586.6,200.7 L588.1,200.8 L589.6,201.0 L591.0,201.1 L592.5,201.3 L594.0,201.4 L595.5,201.5 L596.9,201.7 L598.4,201.8 L599.9,201.9 L601.3,202.1 L602.8,202.2 L604.3,202.3 L605.7,202.4 L607.2,202.5 L608.7,202.6 L610.2,202.7 L611.6,202.8 L613.1,203.0 L614.6,203.0 L616.1,203.1 L617.6,203.2 L619.2,203.3 L620.7,203.4 L622.2,203.5 L623.8,203.6 L625.3,203.7 L626.9,203.8 L628.5,203.8 L630.0,203.9 L631.7,204.0 " stroke="#0000ff" stroke-width="2.00" fill="none" stroke-linejoin="round" stroke-linecap="butt"/>
<path d="M443.1,220.8 L444.4,220.6 L445.7,220.5 L447.1,220.4 L448.5,220.3 L450.0,220.2 L451.5,220.1 L453.0,220.0 L454.6,219.9 L456.2,219.8 L457.8,219.6 L459.4,219.5 L461.0,219.3 L462.6,219.1 L464.1,218.8 L465.7,218.6 L467.3,218.2 L468.8,217.9 L470.3,217.5 L471.8,217.0 L473.2,216.5 L474.6,215.9 L475.9,215.3 L477.2,214.5 L478.4,213.8 L479.5,212.9 L480.6,211.9 L481.6,210.9 L482.5,209.8 L483.4,208.6 L484.2,207.4 L484.9,206.2 L485.6,204.8 L486.3,203.5 L486.9,202.1 L487.5,200.7 L488.0,199.2 L488.5,197.8 L489.0,196.3 L489.5,194.8 L489.9,193.3 L490.3,191.8 L490.7,190.3 L491.1,188.9 L491.5,187.4 L491.8,185.9 L492.1,184.4 L492.4,182.9 L492.7,181.4 L493.0,179.9 L493.3,178.4 L493.6,176.9 L493.8,175.4 L494.1,173.9 L494.3,172.4 L494.5,170.9 L494.7,169.4 L494.9,167.9 L495.1,166.4 L495.3,164.9 L495.5,163.4 L495.7,161.9 L495.9,160.4 L496.1,159.0 L496.3,157.5 L496.5,156.0 L496.7,154.5 L496.9,153.0 L497.1,151.6 L497.2,150.1 L497.4,148.6 L497.6,147.1 L497.8,145.7 L498.0,144.2 L498.2,142.7 L498.4,141.2 L498.6,139.8 L498.7,138.3 L498.9,136.8 L499.1,135.3 L499.3,133.8 L499.5,132.3 L499.7,130.9 L499.9,129.4 L500.1,127.9 L500.3,126.4 L500.5,124.9 L500.7,123.3 L500.9,121.8 L501.1,120.3 L501.3,118.8 L501.5,117.2 L501.7,115.7 L501.9,114.1 L502.1,112.6 L502.4,111.0 L502.6,109.5 L502.8,107.9 L503.0,106.3 L503.2,104.7 L503.5,103.1 L503.7,101.5 L504.0,99.9 L504.3,98.4 L504.7,97.0 L505.3,95.8 L506.0,94.7 L506.8,93.8 L507.9,93.2 L508.9,93.1 L509.8,93.6 L510.6,94.6 L511.3,95.9 L512.0,97.3 L512.7,98.7 L513.4,100.1 L514.1,101.6 L514.8,103.0 L515.4,104.4 L516.1,105.8 L516.7,107.2 L517.4,108.6 L518.0,110.0 L518.6,111.4 L519.3,112.8 L519.9,114.1 L520.5,115.5 L521.2,116.9 L521.8,118.3 L522.5,119.6 L523.1,121.0 L523.7,122.4 L524.4,123.7 L525.0,125.1 L525.7,126.4 L526.3,127.8 L527.0,129.1 L527.6,130.4 L528.3,131.8 L529.0,133.1 L529.7,134.4 L530.4,135.7 L531.1,137.0 L531.8,138.4 L532.6,139.7 L533.3,141.0 L534.1,142.3 L534.8,143.6 L535.6,144.8 L536.4,146.1 L537.2,147.4 L538.0,148.7 L538.9,149.9 L539.7,151.2 L540.6,152.5 L541.5,153.7 L542.4,154.9 L543.3,156.2 L544.2,157.4 L545.1,158.6 L546.1,159.8 L547.0,161.0 L548.0,162.1 L549.0,163.3 L550.0,164.4 L551.0,165.6 L552.0,166.7 L553.1,167.8 L554.1,168.9 L555.2,170.0 L556.3,171.1 L557.3,172.1 L558.4,173.1 L559.6,174.2 L560.7,175.2 L561.8,176.1 L563.0,177.1 L564.2,178.1 L565.4,179.0 L566.5,179.9 L567.8,180.8 L569.0,181.7 L570.2,182.5 L571.4,183.4 L572.7,184.2 L573.9,185.0 L575.2,185.8 L576.5,186.6 L577.8,187.4 L579.1,188.1 L580.4,188.9 L581.7,189.6 L583.0,190.3 L584.4,191.0 L585.7,191.7 L587.1,192.3 L588.4,193.0 L589.8,193.6 L591.2,194.2 L592.6,194.8 L593.9,195.4 L595.3,196.0 L596.7,196.6 L598.1,197.2 L599.6,197.7 L601.0,198.2 L602.4,198.8 L603.8,199.3 L605.3,199.8 L606.7,200.2 L608.1,200.7 L609.6,201.2 L611.0,201.6 L612.5,202.1 L613.9,202.5 L615.4,202.9 L616.9,203.3 L618.3,203.7 L619.8,204.1 L621.3,204.5 L622.7,204.8 L624.2,205.2 L625.7,205.5 L627.1,205.9 L628.6,206.2 L630.1,206.5 L631.6,206.8 " stroke="#e8a2e8" stroke-width="2.00" fill="none" stroke-linejoin="round" stroke-linecap="butt"/>
<path d="M443.1,220.4 L444.5,220.1 L445.8,219.9 L447.2,219.6 L448.7,219.5 L450.1,219.3 L451.6,219.2 L453.2,219.1 L454.7,219.0 L456.3,218.9 L457.9,218.8 L459.4,218.7 L461.0,218.6 L462.6,218.5 L464.2,218.3 L465.8,218.1 L467.3,217.9 L468.9,217.6 L470.4,217.3 L471.9,217.0 L473.3,216.5 L474.7,216.0 L476.1,215.5 L477.5,214.8 L478.8,214.1 L480.0,213.4 L481.2,212.5 L482.3,211.7 L483.4,210.7 L484.4,209.7 L485.4,208.7 L486.3,207.6 L487.1,206.4 L487.8,205.2 L488.6,204.0 L489.2,202.7 L489.8,201.4 L490.4,200.0 L490.9,198.7 L491.4,197.3 L491.9,195.8 L492.3,194.4 L492.7,192.9 L493.0,191.4 L493.3,189.9 L493.7,188.4 L494.0,186.8 L494.2,185.3 L494.5,183.7 L494.8,182.2 L495.0,180.7 L495.3,179.1 L495.5,177.6 L495.7,176.0 L496.0,174.5 L496.2,173.0 L496.5,171.4 L496.7,169.9 L496.9,168.4 L497.1,166.9 L497.4,165.4 L497.6,163.9 L497.8,162.4 L498.0,160.9 L498.3,159.4 L498.5,157.9 L498.7,156.4 L498.9,154.9 L499.1,153.4 L499.3,151.9 L499.5,150.4 L499.7,148.9 L499.9,147.4 L500.1,145.9 L500.3,144.4 L500.5,143.0 L500.7,141.5 L500.9,140.0 L501.1,138.5 L501.3,137.0 L501.5,135.6 L501.7,134.1 L501.9,132.6 L502.1,131.1 L502.3,129.6 L502.4,128.2 L502.6,126.7 L502.8,125.2 L503.0,123.7 L503.2,122.2 L503.3,120.8 L503.5,119.3 L503.7,117.8 L503.9,116.3 L504.0,114.8 L504.2,113.3 L504.4,111.8 L504.5,110.3 L504.7,108.9 L504.9,107.4 L505.0,105.9 L505.2,104.4 L505.3,102.9 L505.5,101.4 L505.7,99.9 L505.8,98.4 L506.0,96.8 L506.2,95.3 L506.3,93.8 L506.5,92.3 L506.7,90.8 L506.9,89.3 L507.1,87.8 L507.3,86.3 L507.5,84.8 L507.7,83.3 L508.0,81.8 L508.2,80.3 L508.5,78.8 L508.8,77.3 L509.1,75.8 L509.5,74.3 L509.8,72.8 L510.2,71.4 L510.6,69.9 L511.1,68.5 L511.5,67.0 L512.0,65.6 L512.5,64.1 L513.1,62.7 L513.6,61.3 L514.2,59.9 L514.9,58.5 L515.6,57.1 L516.3,55.8 L517.0,54.4 L517.8,53.1 L518.6,51.8 L519.4,50.6 L520.3,49.4 L521.2,48.2 L522.1,47.0 L523.1,45.9 L524.1,44.8 L525.1,43.8 L526.2,42.8 L527.3,41.8 L528.4,40.9 L529.6,40.0 L530.8,39.2 L532.0,38.4 L533.3,37.7 L534.6,37.0 L535.9,36.3 L537.3,35.7 L538.6,35.1 L540.0,34.5 L541.4,34.0 L542.8,33.5 L544.3,33.0 L545.7,32.6 L547.2,32.1 L548.7,31.8 L550.2,31.4 L551.7,31.0 L553.2,30.7 L554.7,30.4 L556.3,30.1 L557.8,29.9 L559.3,29.6 L560.9,29.4 L562.4,29.2 L564.0,29.0 L565.5,28.8 L567.0,28.6 L568.6,28.4 L570.1,28.3 L571.6,28.1 L573.1,28.0 L574.6,27.8 L576.1,27.7 L577.6,27.5 L579.1,27.4 L580.6,27.3 L582.1,27.2 L583.6,27.1 L585.1,27.0 L586.6,26.9 L588.0,26.8 L589.5,26.7 L591.0,26.6 L592.5,26.6 L594.0,26.5 L595.4,26.4 L596.9,26.4 L598.4,26.3 L599.9,26.3 L601.4,26.2 L602.8,26.2 L604.3,26.1 L605.8,26.1 L607.3,26.0 L608.8,26.0 L610.3,26.0 L611.8,25.9 L613.3,25.9 L614.8,25.9 L616.3,25.8 L617.8,25.8 L619.3,25.8 L620.8,25.7 L622.4,25.7 L623.9,25.7 L625.5,25.6 L627.0,25.6 L628.6,25.6 L630.1,25.5 L631.7,25.5 " stroke="#000000" stroke-width="2.00" fill="none" stroke-linejoin="round" stroke-linecap="butt"/>
<path d="M88.80,489.00 L200.00,488.60 L287.60,487.70 " stroke="#d98c68" stroke-width="2.00" fill="none" stroke-linejoin="round" stroke-linecap="butt"/>
<path d="M88.8,488.9 L90.3,488.9 L91.8,488.9 L93.4,488.9 L94.9,488.9 L96.4,488.9 L97.9,488.9 L99.4,488.9 L100.9,488.9 L102.5,488.9 L104.0,488.9 L105.5,488.9 L107.0,488.9 L108.5,488.9 L110.1,488.9 L111.6,488.9 L113.1,488.9 L114.6,488.9 L116.1,488.9 L117.6,488.9 L119.2,488.9 L120.7,488.9 L122.2,488.9 L123.7,488.9 L125.2,488.8 L126.8,488.8 L128.3,488.8 L129.8,488.8 L131.3,488.8 L132.8,488.8 L134.3,488.8 L135.9,488.8 L137.4,488.7 L138.9,488.7 L140.4,488.7 L141.9,488.7 L143.5,488.7 L145.0,488.7 L146.5,488.6 L148.0,488.6 L149.5,488.6 L151.0,488.6 L152.6,488.6 L154.1,488.5 L155.6,488.5 L157.1,488.5 L158.6,488.5 L160.1,488.4 L161.7,488.4 L163.2,488.4 L164.7,488.4 L166.2,488.3 L167.7,488.3 L169.3,488.3 L170.8,488.2 L172.3,488.2 L173.8,488.2 L175.3,488.1 L176.8,488.1 L178.4,488.1 L179.9,488.1 L181.4,488.0 L182.9,488.0 L184.4,487.9 L185.9,487.9 L187.5,487.9 L189.0,487.8 L190.5,487.8 L192.0,487.8 L193.5,487.7 L195.1,487.7 L196.6,487.7 L198.1,487.6 L199.6,487.6 L201.1,487.5 L202.6,487.5 L204.2,487.5 L205.7,487.4 L207.2,487.4 L208.7,487.3 L210.2,487.3 L211.7,487.2 L213.3,487.2 L214.8,487.1 L216.3,487.1 L217.8,487.1 L219.3,487.0 L220.8,487.0 L222.4,486.9 L223.9,486.9 L225.4,486.8 L226.9,486.8 L228.4,486.7 L230.0,486.7 L231.5,486.6 L233.0,486.6 L234.5,486.5 L236.0,486.5 L237.5,486.4 L239.1,486.4 L240.6,486.3 L242.1,486.3 L243.6,486.2 L245.1,486.2 L246.6,486.1 L248.2,486.1 L249.7,486.0 L251.2,485.9 L252.7,485.9 L254.2,485.8 L255.7,485.8 L257.3,485.7 L258.8,485.7 L260.3,485.6 L261.8,485.5 L263.3,485.5 L264.8,485.4 L266.4,485.4 L267.9,485.3 L269.4,485.3 L270.9,485.2 L272.4,485.1 L273.9,485.1 L275.5,485.0 L277.0,485.0 L278.5,484.9 L280.0,484.8 L281.5,484.8 L283.0,484.7 L284.6,484.6 L286.1,484.6 L287.6,484.5 " stroke="#ff0000" stroke-width="2.00" fill="none" stroke-linejoin="round" stroke-linecap="butt"/>
<path d="M88.8,488.6 L90.3,488.6 L91.8,488.6 L93.3,488.7 L94.9,488.7 L96.4,488.7 L97.9,488.6 L99.4,488.6 L101.0,488.6 L102.5,488.6 L104.0,488.5 L105.5,488.5 L107.0,488.4 L108.5,488.4 L110.1,488.3 L111.6,488.2 L113.1,488.2 L114.6,488.1 L116.1,488.0 L117.6,487.9 L119.2,487.8 L120.7,487.7 L122.2,487.6 L123.7,487.5 L125.2,487.4 L126.7,487.2 L128.2,487.1 L129.7,487.0 L131.2,486.8 L132.7,486.7 L134.2,486.5 L135.8,486.4 L137.3,486.2 L138.8,486.1 L140.3,485.9 L141.8,485.7 L143.3,485.6 L144.8,485.4 L146.3,485.2 L147.8,485.0 L149.3,484.8 L150.8,484.6 L152.3,484.4 L153.8,484.2 L155.3,484.0 L156.8,483.8 L158.3,483.6 L159.8,483.4 L161.3,483.2 L162.8,483.0 L164.3,482.8 L165.8,482.6 L167.3,482.3 L168.8,482.1 L170.3,481.9 L171.8,481.7 L173.3,481.4 L174.8,481.2 L176.3,481.0 L177.8,480.7 L179.3,480.5 L180.8,480.3 L182.3,480.0 L183.8,479.8 L185.3,479.6 L186.8,479.3 L188.3,479.1 L189.8,478.8 L191.3,478.6 L192.8,478.4 L194.3,478.1 L195.8,477.9 L197.3,477.6 L198.8,477.4 L200.3,477.2 L201.8,476.9 L203.3,476.7 L204.8,476.4 L206.2,476.2 L207.7,476.0 L209.2,475.7 L210.7,475.5 L212.2,475.3 L213.7,475.0 L215.2,474.8 L216.7,474.6 L218.2,474.4 L219.7,474.1 L221.2,473.9 L222.7,473.7 L224.2,473.5 L225.7,473.3 L227.2,473.2 L228.7,473.0 L230.3,472.8 L231.8,472.7 L233.3,472.5 L234.8,472.4 L236.3,472.2 L237.8,472.1 L239.3,472.0 L240.8,471.9 L242.3,471.8 L243.8,471.7 L245.3,471.6 L246.8,471.5 L248.3,471.5 L249.8,471.4 L251.3,471.4 L252.8,471.4 L254.4,471.4 L255.9,471.4 L257.4,471.4 L258.9,471.4 L260.4,471.5 L261.9,471.6 L263.4,471.6 L264.9,471.7 L266.4,471.8 L268.0,472.0 L269.5,472.1 L271.0,472.2 L272.5,472.4 L274.0,472.6 L275.5,472.8 L277.0,473.0 L278.6,473.2 L280.1,473.5 L281.6,473.8 L283.1,474.0 L284.6,474.3 L286.1,474.7 L287.6,475.0 " stroke="#0000ff" stroke-width="2.00" fill="none" stroke-linejoin="round" stroke-linecap="butt"/>
<path d="M88.9,488.9 L90.3,488.9 L91.8,488.8 L93.2,488.7 L94.7,488.7 L96.1,488.6 L97.6,488.6 L99.1,488.6 L100.6,488.5 L102.1,488.5 L103.6,488.5 L105.1,488.5 L106.6,488.5 L108.1,488.5 L109.6,488.5 L111.1,488.5 L112.6,488.5 L114.1,488.5 L115.6,488.5 L117.2,488.5 L118.7,488.5 L120.2,488.5 L121.8,488.5 L123.3,488.5 L124.8,488.5 L126.4,488.5 L127.9,488.5 L129.4,488.5 L131.0,488.5 L132.5,488.5 L134.0,488.5 L135.6,488.5 L137.1,488.5 L138.7,488.4 L140.2,488.4 L141.7,488.3 L143.3,488.3 L144.8,488.2 L146.3,488.1 L147.8,488.0 L149.4,487.9 L150.9,487.8 L152.4,487.7 L153.9,487.6 L155.4,487.4 L156.9,487.3 L158.5,487.1 L160.0,486.9 L161.5,486.7 L162.9,486.5 L164.4,486.3 L165.9,486.1 L167.4,485.8 L168.9,485.5 L170.3,485.2 L171.8,484.9 L173.3,484.6 L174.7,484.3 L176.1,483.9 L177.6,483.5 L179.0,483.1 L180.4,482.7 L181.8,482.2 L183.3,481.8 L184.7,481.3 L186.0,480.7 L187.4,480.2 L188.8,479.6 L190.2,479.1 L191.5,478.4 L192.9,477.8 L194.2,477.1 L195.5,476.5 L196.8,475.8 L198.2,475.0 L199.5,474.3 L200.7,473.5 L202.0,472.7 L203.3,471.9 L204.6,471.1 L205.8,470.2 L207.1,469.3 L208.3,468.5 L209.5,467.6 L210.7,466.6 L211.9,465.7 L213.1,464.8 L214.3,463.8 L215.5,462.8 L216.6,461.8 L217.8,460.8 L218.9,459.8 L220.0,458.8 L221.1,457.8 L222.2,456.7 L223.3,455.7 L224.4,454.6 L225.5,453.5 L226.6,452.4 L227.6,451.3 L228.6,450.2 L229.7,449.1 L230.7,448.0 L231.7,446.9 L232.7,445.8 L233.7,444.6 L234.7,443.5 L235.7,442.4 L236.6,441.2 L237.6,440.0 L238.5,438.9 L239.5,437.7 L240.4,436.5 L241.3,435.3 L242.2,434.1 L243.1,432.9 L244.0,431.7 L244.9,430.5 L245.8,429.3 L246.7,428.0 L247.6,426.8 L248.4,425.6 L249.3,424.3 L250.1,423.1 L251.0,421.8 L251.8,420.6 L252.7,419.3 L253.5,418.1 L254.3,416.8 L255.1,415.5 L255.9,414.3 L256.8,413.0 L257.6,411.7 L258.4,410.4 L259.2,409.1 L259.9,407.9 L260.7,406.6 L261.5,405.3 L262.3,404.0 L263.1,402.7 L263.8,401.4 L264.6,400.1 L265.4,398.8 L266.1,397.5 L266.9,396.2 L267.6,394.8 L268.4,393.5 L269.1,392.2 L269.9,390.9 L270.6,389.6 L271.4,388.3 L272.1,387.0 L272.9,385.7 L273.6,384.3 L274.4,383.0 L275.1,381.7 L275.8,380.4 L276.6,379.1 L277.3,377.8 L278.1,376.5 L278.8,375.2 L279.5,373.9 L280.3,372.5 L281.0,371.2 L281.8,369.9 L282.5,368.6 L283.2,367.3 L284.0,366.0 L284.7,364.7 L285.5,363.4 L286.2,362.1 L287.0,360.9 " stroke="#e8a2e8" stroke-width="2.00" fill="none" stroke-linejoin="round" stroke-linecap="butt"/>
<path d="M88.7,483.3 L90.3,483.1 L91.8,483.0 L93.3,482.9 L94.8,482.7 L96.3,482.6 L97.9,482.4 L99.4,482.3 L100.9,482.1 L102.4,481.9 L103.9,481.7 L105.4,481.6 L106.9,481.4 L108.4,481.2 L109.9,480.9 L111.4,480.7 L112.9,480.5 L114.4,480.3 L115.9,480.0 L117.4,479.8 L118.9,479.5 L120.4,479.2 L121.9,479.0 L123.4,478.7 L124.9,478.4 L126.3,478.1 L127.8,477.8 L129.3,477.5 L130.8,477.1 L132.2,476.8 L133.7,476.4 L135.2,476.1 L136.6,475.7 L138.1,475.3 L139.5,475.0 L141.0,474.6 L142.4,474.2 L143.9,473.7 L145.3,473.3 L146.8,472.9 L148.2,472.4 L149.6,472.0 L151.0,471.5 L152.5,471.0 L153.9,470.5 L155.3,470.0 L156.7,469.5 L158.1,469.0 L159.6,468.5 L161.0,467.9 L162.4,467.4 L163.8,466.8 L165.2,466.2 L166.5,465.6 L167.9,465.0 L169.3,464.4 L170.7,463.8 L172.1,463.1 L173.4,462.5 L174.8,461.8 L176.2,461.1 L177.5,460.4 L178.9,459.7 L180.2,459.0 L181.5,458.3 L182.9,457.6 L184.2,456.8 L185.5,456.1 L186.9,455.3 L188.2,454.5 L189.5,453.7 L190.8,452.9 L192.1,452.1 L193.4,451.3 L194.6,450.5 L195.9,449.6 L197.2,448.8 L198.4,447.9 L199.7,447.1 L200.9,446.2 L202.2,445.3 L203.4,444.4 L204.6,443.5 L205.8,442.6 L207.0,441.7 L208.2,440.7 L209.4,439.8 L210.5,438.8 L211.7,437.8 L212.8,436.8 L213.9,435.8 L215.0,434.8 L216.1,433.7 L217.2,432.7 L218.2,431.6 L219.3,430.5 L220.3,429.5 L221.3,428.4 L222.3,427.3 L223.3,426.1 L224.3,425.0 L225.3,423.9 L226.2,422.7 L227.2,421.5 L228.1,420.4 L229.0,419.2 L229.9,418.0 L230.8,416.8 L231.7,415.6 L232.6,414.3 L233.4,413.1 L234.3,411.9 L235.1,410.6 L236.0,409.4 L236.8,408.1 L237.6,406.8 L238.4,405.5 L239.2,404.3 L240.0,403.0 L240.8,401.7 L241.5,400.4 L242.3,399.0 L243.1,397.7 L243.8,396.4 L244.5,395.1 L245.3,393.7 L246.0,392.4 L246.7,391.1 L247.4,389.7 L248.1,388.4 L248.8,387.0 L249.5,385.6 L250.2,384.3 L250.9,382.9 L251.5,381.5 L252.2,380.2 L252.9,378.8 L253.5,377.4 L254.2,376.0 L254.8,374.7 L255.5,373.3 L256.1,371.9 L256.7,370.5 L257.4,369.1 L258.0,367.7 L258.6,366.3 L259.3,365.0 L259.9,363.6 L260.5,362.2 L261.1,360.8 L261.7,359.4 L262.3,358.0 L262.9,356.6 L263.5,355.3 L264.1,353.9 L264.7,352.5 L265.3,351.1 L265.9,349.7 L266.5,348.3 L267.1,346.9 L267.7,345.5 L268.3,344.1 L268.8,342.8 L269.4,341.4 L270.0,340.0 L270.6,338.6 L271.1,337.2 L271.7,335.8 L272.3,334.4 L272.8,333.0 L273.4,331.6 L273.9,330.2 L274.5,328.8 L275.0,327.4 L275.6,326.0 L276.1,324.6 L276.7,323.2 L277.2,321.8 L277.8,320.4 L278.3,318.9 L278.8,317.5 L279.4,316.1 L279.9,314.7 L280.4,313.3 L281.0,311.9 L281.5,310.4 L282.0,309.0 L282.5,307.6 L283.1,306.2 L283.6,304.7 L284.1,303.3 L284.6,301.9 L285.1,300.4 L285.6,299.0 L286.2,297.6 L286.7,296.1 L287.2,294.7 " stroke="#000000" stroke-width="2.00" fill="none" stroke-linejoin="round" stroke-linecap="butt"/>
<path d="M443.2,488.9 L444.7,488.9 L446.2,488.9 L447.8,488.9 L449.3,488.9 L450.8,488.9 L452.3,488.9 L453.8,488.9 L455.4,488.9 L456.9,489.0 L458.4,489.0 L459.9,489.0 L461.5,489.0 L463.0,489.0 L464.5,489.0 L466.0,489.0 L467.5,489.0 L469.1,489.0 L470.6,489.0 L472.1,488.9 L473.6,488.9 L475.1,488.9 L476.7,488.9 L478.2,488.9 L479.7,488.9 L481.2,488.9 L482.8,488.9 L484.3,488.9 L485.8,488.9 L487.3,488.8 L488.8,488.8 L490.4,488.8 L491.9,488.8 L493.4,488.8 L494.9,488.8 L496.4,488.7 L498.0,488.7 L499.5,488.7 L501.0,488.7 L502.5,488.6 L504.1,488.6 L505.6,488.6 L507.1,488.6 L508.6,488.5 L510.1,488.5 L511.7,488.5 L513.2,488.4 L514.7,488.4 L516.2,488.4 L517.7,488.3 L519.3,488.3 L520.8,488.3 L522.3,488.2 L523.8,488.2 L525.3,488.1 L526.9,488.1 L528.4,488.1 L529.9,488.0 L531.4,488.0 L532.9,487.9 L534.5,487.9 L536.0,487.8 L537.5,487.8 L539.0,487.7 L540.5,487.7 L542.1,487.6 L543.6,487.6 L545.1,487.5 L546.6,487.5 L548.1,487.4 L549.7,487.4 L551.2,487.3 L552.7,487.3 L554.2,487.2 L555.7,487.1 L557.3,487.1 L558.8,487.0 L560.3,486.9 L561.8,486.9 L563.3,486.8 L564.8,486.7 L566.4,486.7 L567.9,486.6 L569.4,486.5 L570.9,486.5 L572.4,486.4 L574.0,486.3 L575.5,486.3 L577.0,486.2 L578.5,486.2 L580.0,486.1 L581.5,486.1 L583.1,486.0 L584.6,486.0 L586.1,485.9 L587.6,485.9 L589.1,485.9 L590.7,485.9 L592.2,485.9 L593.7,485.9 L595.2,485.9 L596.7,485.9 L598.3,485.9 L599.8,485.9 L601.3,486.0 L602.8,486.0 L604.3,486.1 L605.9,486.1 L607.4,486.2 L608.9,486.3 L610.4,486.4 L611.9,486.5 L613.5,486.6 L615.0,486.7 L616.5,486.8 L618.0,486.9 L619.5,487.0 L621.1,487.1 L622.6,487.2 L624.1,487.3 L625.6,487.3 L627.1,487.4 L628.7,487.5 L630.2,487.6 L631.7,487.7 " stroke="#d98c68" stroke-width="2.00" fill="none" stroke-linejoin="round" stroke-linecap="butt"/>
<path d="M443.00,489.00 L443.20,482.00 L443.1,482.0 L444.7,481.6 L446.2,481.3 L447.7,481.0 L449.2,480.7 L450.7,480.4 L452.2,480.1 L453.7,479.9 L455.2,479.6 L456.7,479.4 L458.2,479.1 L459.6,478.9 L461.1,478.7 L462.6,478.4 L464.0,478.2 L465.5,478.0 L466.9,477.7 L468.4,477.5 L469.8,477.2 L471.3,476.9 L472.7,476.7 L474.2,476.4 L475.6,476.0 L477.1,475.7 L478.6,475.3 L480.0,474.9 L481.5,474.5 L483.0,474.1 L484.4,473.7 L485.9,473.2 L487.4,472.7 L488.8,472.2 L490.3,471.7 L491.7,471.1 L493.2,470.6 L494.6,470.0 L496.1,469.3 L497.5,468.7 L498.9,468.1 L500.3,467.4 L501.7,466.7 L503.0,466.0 L504.4,465.2 L505.7,464.5 L507.0,463.7 L508.3,462.9 L509.6,462.0 L510.9,461.2 L512.1,460.3 L513.3,459.4 L514.5,458.5 L515.7,457.6 L516.9,456.6 L518.0,455.7 L519.1,454.7 L520.2,453.7 L521.2,452.7 L522.3,451.6 L523.3,450.6 L524.3,449.5 L525.3,448.4 L526.3,447.3 L527.2,446.1 L528.2,445.0 L529.1,443.8 L530.0,442.7 L530.9,441.5 L531.7,440.3 L532.6,439.1 L533.4,437.9 L534.3,436.6 L535.1,435.4 L535.9,434.1 L536.7,432.9 L537.5,431.6 L538.2,430.3 L539.0,429.0 L539.8,427.7 L540.5,426.4 L541.3,425.1 L542.0,423.7 L542.7,422.4 L543.4,421.1 L544.1,419.7 L544.8,418.4 L545.5,417.0 L546.2,415.7 L546.9,414.3 L547.6,412.9 L548.3,411.6 L549.0,410.2 L549.7,408.8 L550.4,407.4 L551.1,406.0 L551.7,404.7 L552.4,403.3 L553.1,401.9 L553.8,400.5 L554.5,399.2 L555.2,397.8 L555.9,396.4 L556.6,395.0 L557.3,393.7 L558.0,392.3 L558.7,390.9 L559.4,389.6 L560.2,388.2 L560.9,386.9 L561.7,385.5 L562.4,384.2 L563.2,382.9 L563.9,381.5 L564.7,380.2 L565.5,378.9 L566.3,377.6 L567.1,376.4 L568.0,375.1 L568.9,374.0 L569.8,372.9 L570.8,371.9 L571.9,371.0 L573.1,370.3 L574.3,369.7 L575.6,369.2 L577.0,369.0 L578.5,368.9 L580.0,369.0 L581.5,369.2 L583.0,369.5 L584.4,369.9 L585.8,370.5 L587.1,371.2 L588.3,371.9 L589.6,372.8 L590.7,373.7 L591.9,374.7 L593.0,375.8 L594.1,376.9 L595.1,378.0 L596.1,379.2 L597.1,380.4 L598.1,381.6 L599.1,382.9 L600.0,384.1 L601.0,385.3 L601.9,386.6 L602.9,387.8 L603.8,389.0 L604.7,390.2 L605.7,391.4 L606.6,392.6 L607.5,393.8 L608.4,395.0 L609.3,396.2 L610.2,397.3 L611.2,398.5 L612.1,399.7 L613.0,400.8 L613.9,402.0 L614.8,403.2 L615.8,404.3 L616.7,405.5 L617.6,406.7 L618.6,407.8 L619.5,409.0 L620.5,410.1 L621.4,411.3 L622.4,412.4 L623.4,413.6 L624.4,414.7 L625.4,415.8 L626.4,417.0 L627.4,418.1 L628.4,419.3 L629.5,420.4 L630.5,421.6 L631.6,422.7 " stroke="#ff0000" stroke-width="2.00" fill="none" stroke-linejoin="round" stroke-linecap="butt"/>
<path d="M443.1,487.7 L444.7,487.8 L446.2,487.8 L447.8,487.9 L449.3,487.8 L450.9,487.8 L452.4,487.8 L453.9,487.7 L455.5,487.6 L457.0,487.5 L458.5,487.4 L460.0,487.2 L461.5,487.1 L463.1,486.9 L464.6,486.7 L466.1,486.5 L467.6,486.3 L469.1,486.0 L470.6,485.8 L472.1,485.5 L473.5,485.2 L475.0,484.9 L476.5,484.6 L478.0,484.3 L479.5,483.9 L481.0,483.6 L482.4,483.2 L483.9,482.9 L485.4,482.5 L486.8,482.1 L488.3,481.7 L489.8,481.3 L491.2,480.9 L492.7,480.4 L494.2,480.0 L495.6,479.6 L497.1,479.1 L498.5,478.7 L500.0,478.2 L501.4,477.8 L502.9,477.3 L504.3,476.8 L505.8,476.3 L507.2,475.9 L508.7,475.4 L510.1,474.9 L511.6,474.4 L513.0,474.0 L514.5,473.5 L515.9,473.0 L517.4,472.5 L518.8,472.0 L520.3,471.5 L521.7,471.1 L523.2,470.6 L524.6,470.1 L526.1,469.6 L527.5,469.2 L529.0,468.7 L530.5,468.3 L531.9,467.8 L533.4,467.4 L534.8,466.9 L536.3,466.5 L537.7,466.1 L539.2,465.6 L540.7,465.2 L542.1,464.8 L543.6,464.4 L545.1,464.1 L546.5,463.7 L548.0,463.4 L549.5,463.1 L551.0,462.8 L552.4,462.6 L553.9,462.4 L555.4,462.3 L556.9,462.2 L558.3,462.2 L559.8,462.3 L561.3,462.4 L562.8,462.5 L564.3,462.7 L565.7,463.0 L567.2,463.3 L568.7,463.7 L570.2,464.1 L571.6,464.5 L573.1,464.9 L574.5,465.4 L576.0,465.9 L577.4,466.4 L578.9,467.0 L580.3,467.6 L581.8,468.1 L583.2,468.7 L584.6,469.3 L586.0,469.9 L587.5,470.5 L588.9,471.1 L590.3,471.7 L591.8,472.3 L593.2,472.9 L594.6,473.5 L596.0,474.0 L597.5,474.6 L598.9,475.1 L600.3,475.6 L601.8,476.1 L603.2,476.5 L604.7,476.9 L606.2,477.3 L607.6,477.7 L609.1,478.1 L610.6,478.4 L612.0,478.7 L613.5,479.0 L615.0,479.2 L616.5,479.4 L618.0,479.7 L619.5,479.9 L621.0,480.1 L622.5,480.2 L624.0,480.4 L625.6,480.5 L627.1,480.7 L628.6,480.8 L630.2,480.9 L631.7,481.0 " stroke="#0000ff" stroke-width="2.00" fill="none" stroke-linejoin="round" stroke-linecap="butt"/>
<path d="M443.3,488.8 L444.7,488.7 L446.1,488.7 L447.6,488.6 L449.0,488.5 L450.5,488.5 L452.0,488.4 L453.5,488.4 L455.0,488.3 L456.4,488.3 L457.9,488.3 L459.5,488.2 L461.0,488.2 L462.5,488.2 L464.0,488.1 L465.5,488.1 L467.1,488.1 L468.6,488.0 L470.1,488.0 L471.7,487.9 L473.2,487.8 L474.7,487.8 L476.3,487.7 L477.8,487.6 L479.3,487.5 L480.9,487.4 L482.4,487.3 L484.0,487.1 L485.5,487.0 L487.0,486.8 L488.6,486.6 L490.1,486.4 L491.6,486.2 L493.1,486.0 L494.6,485.7 L496.1,485.5 L497.6,485.2 L499.1,484.8 L500.6,484.5 L502.1,484.1 L503.6,483.8 L505.0,483.3 L506.5,482.9 L508.0,482.4 L509.4,481.9 L510.8,481.4 L512.2,480.9 L513.6,480.3 L515.0,479.7 L516.4,479.1 L517.8,478.5 L519.1,477.8 L520.5,477.1 L521.8,476.4 L523.1,475.6 L524.4,474.9 L525.6,474.1 L526.9,473.3 L528.1,472.4 L529.3,471.6 L530.5,470.7 L531.7,469.8 L532.8,468.8 L534.0,467.9 L535.1,466.9 L536.2,465.9 L537.2,464.9 L538.3,463.8 L539.3,462.8 L540.3,461.7 L541.3,460.6 L542.2,459.4 L543.2,458.3 L544.1,457.1 L545.0,456.0 L545.9,454.8 L546.8,453.6 L547.7,452.3 L548.5,451.1 L549.3,449.8 L550.2,448.6 L551.0,447.3 L551.8,446.0 L552.5,444.7 L553.3,443.4 L554.0,442.1 L554.8,440.7 L555.5,439.4 L556.2,438.0 L556.9,436.7 L557.6,435.3 L558.3,433.9 L559.0,432.6 L559.6,431.2 L560.3,429.8 L561.0,428.4 L561.6,427.0 L562.2,425.6 L562.8,424.2 L563.5,422.8 L564.1,421.4 L564.7,419.9 L565.3,418.5 L565.9,417.1 L566.5,415.7 L567.1,414.3 L567.6,412.9 L568.2,411.5 L568.8,410.1 L569.4,408.7 L570.0,407.3 L570.6,405.8 L571.1,404.4 L571.7,403.0 L572.3,401.7 L572.9,400.3 L573.5,398.9 L574.1,397.5 L574.7,396.1 L575.4,394.7 L576.0,393.4 L576.6,392.0 L577.3,390.6 L577.9,389.3 L578.6,387.9 L579.3,386.6 L579.9,385.3 L580.6,383.9 L581.4,382.6 L582.1,381.3 L582.8,380.0 L583.6,378.7 L584.4,377.4 L585.1,376.1 L586.0,374.9 L586.8,373.6 L587.6,372.4 L588.5,371.1 L589.4,369.9 L590.3,368.7 L591.2,367.5 L592.2,366.3 L593.1,365.2 L594.1,364.0 L595.1,362.9 L596.2,361.8 L597.2,360.8 L598.3,359.7 L599.4,358.7 L600.5,357.8 L601.7,356.8 L602.8,355.9 L604.0,355.1 L605.3,354.3 L606.5,353.5 L607.8,352.7 L609.1,352.0 L610.4,351.4 L611.7,350.8 L613.1,350.2 L614.5,349.7 L615.9,349.2 L617.4,348.8 L618.8,348.5 L620.3,348.2 L621.9,348.0 L623.4,347.8 L625.0,347.7 L626.6,347.6 L628.3,347.6 L630.0,347.7 L631.7,347.9 " stroke="#e8a2e8" stroke-width="2.00" fill="none" stroke-linejoin="round" stroke-linecap="butt"/>
<path d="M443.3,486.7 L444.8,486.5 L446.2,486.4 L447.7,486.2 L449.2,486.1 L450.6,486.0 L452.1,485.9 L453.6,485.8 L455.1,485.7 L456.6,485.6 L458.1,485.5 L459.6,485.4 L461.1,485.3 L462.6,485.2 L464.1,485.2 L465.6,485.1 L467.1,485.0 L468.6,484.9 L470.2,484.8 L471.7,484.8 L473.2,484.7 L474.7,484.6 L476.2,484.5 L477.8,484.4 L479.3,484.2 L480.8,484.1 L482.4,484.0 L483.9,483.8 L485.4,483.7 L486.9,483.5 L488.5,483.4 L490.0,483.2 L491.5,483.0 L493.0,482.8 L494.5,482.5 L496.1,482.3 L497.6,482.0 L499.1,481.7 L500.6,481.4 L502.1,481.1 L503.6,480.8 L505.0,480.4 L506.5,480.1 L508.0,479.7 L509.4,479.2 L510.9,478.8 L512.3,478.3 L513.8,477.8 L515.2,477.3 L516.6,476.8 L518.0,476.2 L519.3,475.6 L520.7,475.0 L522.1,474.4 L523.4,473.7 L524.7,473.0 L526.0,472.3 L527.3,471.5 L528.5,470.7 L529.8,469.9 L531.0,469.1 L532.2,468.2 L533.4,467.3 L534.6,466.4 L535.8,465.5 L536.9,464.5 L538.0,463.6 L539.1,462.6 L540.2,461.5 L541.3,460.5 L542.3,459.4 L543.4,458.4 L544.4,457.3 L545.4,456.1 L546.4,455.0 L547.3,453.8 L548.3,452.7 L549.2,451.5 L550.1,450.3 L551.0,449.1 L551.8,447.8 L552.7,446.6 L553.5,445.3 L554.3,444.1 L555.1,442.8 L555.9,441.5 L556.6,440.2 L557.4,438.9 L558.1,437.5 L558.8,436.2 L559.5,434.9 L560.2,433.5 L560.8,432.1 L561.5,430.8 L562.1,429.4 L562.8,428.0 L563.4,426.6 L564.0,425.3 L564.6,423.9 L565.2,422.5 L565.8,421.1 L566.4,419.7 L567.0,418.3 L567.6,416.9 L568.2,415.5 L568.8,414.1 L569.4,412.7 L569.9,411.3 L570.5,409.9 L571.1,408.5 L571.7,407.0 L572.2,405.6 L572.8,404.2 L573.4,402.8 L573.9,401.4 L574.5,400.0 L575.1,398.6 L575.6,397.2 L576.2,395.8 L576.7,394.4 L577.3,393.0 L577.9,391.6 L578.4,390.1 L579.0,388.7 L579.6,387.3 L580.1,385.9 L580.7,384.5 L581.2,383.1 L581.8,381.7 L582.4,380.3 L582.9,378.9 L583.5,377.5 L584.1,376.1 L584.7,374.7 L585.2,373.3 L585.8,371.9 L586.4,370.5 L587.0,369.1 L587.6,367.7 L588.2,366.3 L588.8,365.0 L589.4,363.6 L590.0,362.2 L590.6,360.8 L591.2,359.4 L591.8,358.1 L592.4,356.7 L593.0,355.3 L593.7,353.9 L594.3,352.6 L594.9,351.2 L595.6,349.9 L596.2,348.5 L596.9,347.1 L597.5,345.8 L598.2,344.4 L598.9,343.1 L599.5,341.8 L600.2,340.4 L600.9,339.1 L601.6,337.8 L602.3,336.4 L603.0,335.1 L603.7,333.8 L604.4,332.5 L605.2,331.2 L605.9,329.9 L606.7,328.5 L607.4,327.2 L608.2,326.0 L609.0,324.7 L609.7,323.4 L610.5,322.1 L611.3,320.8 L612.1,319.6 L613.0,318.3 L613.8,317.0 L614.6,315.8 L615.5,314.5 L616.3,313.3 L617.2,312.0 L618.1,310.8 L619.0,309.6 L619.9,308.3 L620.8,307.1 L621.7,305.9 L622.6,304.7 L623.6,303.5 L624.5,302.3 L625.5,301.1 L626.5,299.9 L627.5,298.8 L628.5,297.6 L629.5,296.4 L630.5,295.3 L631.6,294.1 " stroke="#000000" stroke-width="2.00" fill="none" stroke-linejoin="round" stroke-linecap="butt"/>
<path d="M102.3,741.6 L103.4,741.1 L104.5,740.7 L105.7,740.4 L107.0,740.1 L108.3,740.0 L109.7,739.9 L111.1,739.8 L112.6,739.8 L114.1,739.8 L115.7,739.9 L117.3,740.0 L118.9,740.1 L120.5,740.3 L122.2,740.4 L123.9,740.6 L125.5,740.8 L127.2,740.9 L128.9,741.1 L130.6,741.2 L132.3,741.3 L134.0,741.4 L135.6,741.4 L137.3,741.4 L138.9,741.4 L140.4,741.3 L142.0,741.1 L143.5,740.9 L144.9,740.6 L146.4,740.2 L147.7,739.8 L149.0,739.2 L150.2,738.6 L151.4,737.8 L152.5,736.9 L153.5,736.0 L154.5,734.8 L155.3,733.6 L156.1,732.3 L156.9,730.9 L157.6,729.4 L158.3,727.9 L159.0,726.5 L159.7,725.1 L160.5,723.8 L161.4,722.6 L162.4,721.5 L163.4,720.7 L164.6,720.1 L165.7,720.0 L166.9,720.2 L168.1,720.8 L169.2,721.7 L170.3,722.8 L171.5,724.0 L172.6,725.3 L173.7,726.6 L174.8,727.9 L176.0,729.0 L177.1,730.0 L178.3,730.9 L179.5,731.8 L180.7,732.6 L181.9,733.3 L183.2,734.0 L184.6,734.6 L185.9,735.2 L187.3,735.7 L188.7,736.2 L190.1,736.6 L191.5,737.0 L193.0,737.4 L194.5,737.7 L195.9,738.0 L197.4,738.3 L198.9,738.5 L200.4,738.7 L201.9,739.0 L203.4,739.2 L204.9,739.4 L206.4,739.5 L207.9,739.7 L209.4,739.9 L210.9,740.0 L212.4,740.2 L213.9,740.3 L215.5,740.4 L217.0,740.5 L218.5,740.7 L220.0,740.7 L221.5,740.8 L223.0,740.9 L224.5,741.0 L226.0,741.1 L227.5,741.1 L229.0,741.2 L230.6,741.2 L232.1,741.3 L233.6,741.3 L235.1,741.3 L236.6,741.3 L238.1,741.4 L239.6,741.4 L241.1,741.4 L242.7,741.4 L244.2,741.4 L245.7,741.4 L247.2,741.4 L248.7,741.4 L250.2,741.4 L251.7,741.4 L253.2,741.3 L254.8,741.3 L256.3,741.3 L257.8,741.3 L259.3,741.3 L260.8,741.2 L262.3,741.2 L263.8,741.2 L265.3,741.2 L266.8,741.1 L268.3,741.1 L269.8,741.1 L271.3,741.1 L272.8,741.1 L274.3,741.1 L275.8,741.0 L277.3,741.0 L278.8,741.0 L280.3,741.0 L281.8,741.0 L283.3,741.0 L284.8,741.0 L286.3,741.1 L287.8,741.1 L289.3,741.1 L290.8,741.1 L292.3,741.1 L293.8,741.2 L295.3,741.2 L296.7,741.3 L298.2,741.3 L299.7,741.3 L301.2,741.3 L302.7,741.3 L304.2,741.3 L305.7,741.2 L307.2,741.1 L308.7,741.0 L310.3,740.8 L311.8,740.6 L313.4,740.3 L314.9,740.0 L316.4,739.6 L317.8,739.0 L319.2,738.4 L320.4,737.5 L321.5,736.5 L322.5,735.4 L323.4,734.1 L324.2,732.8 L325.0,731.4 L325.7,729.9 L326.4,728.5 L327.2,727.1 L327.9,725.7 L328.7,724.5 L329.6,723.3 L330.5,722.3 L331.6,721.4 L332.8,720.8 L334.1,720.3 L335.5,720.2 L336.9,720.4 L338.1,721.0 L339.2,722.1 L340.1,723.4 L341.0,724.8 L341.9,726.1 L343.0,727.4 L344.0,728.5 L345.2,729.5 L346.4,730.5 L347.6,731.3 L348.9,732.1 L350.2,732.8 L351.5,733.5 L352.9,734.1 L354.2,734.7 L355.6,735.3 L357.0,735.8 L358.4,736.3 L359.8,736.7 L361.2,737.2 L362.6,737.5 L364.0,737.9 L365.5,738.2 L367.0,738.5 L368.4,738.8 L369.9,739.0 L371.4,739.2 L372.9,739.4 L374.4,739.6 L375.9,739.7 L377.4,739.9 L378.9,740.0 L380.4,740.1 L381.9,740.1 L383.5,740.2 L385.0,740.3 L386.5,740.3 L388.1,740.3 L389.6,740.3 L391.1,740.4 L392.7,740.4 L394.2,740.4 L395.7,740.4 L397.3,740.4 L398.8,740.3 L400.3,740.3 L401.9,740.3 L403.4,740.3 L404.9,740.3 L406.4,740.3 L408.0,740.3 L409.5,740.4 L411.0,740.4 L412.5,740.4 L413.9,740.5 L415.4,740.5 L416.9,740.6 L418.4,740.7 L419.8,740.8 L421.3,740.9 " stroke="#d98c68" stroke-width="2.40" fill="none" stroke-linejoin="round" stroke-linecap="butt"/>
<path d="M101.50,742.20 L101.50,737.50 L101.6,737.3 L103.0,737.2 L104.4,737.1 L105.9,737.0 L107.4,736.9 L108.9,736.8 L110.4,736.6 L111.9,736.4 L113.4,736.2 L115.0,736.0 L116.5,735.7 L118.0,735.4 L119.5,735.1 L121.0,734.7 L122.5,734.3 L124.0,733.9 L125.5,733.4 L126.9,732.8 L128.3,732.3 L129.7,731.6 L131.0,731.0 L132.3,730.2 L133.5,729.5 L134.7,728.6 L135.9,727.7 L137.0,726.8 L138.0,725.8 L139.0,724.7 L139.9,723.6 L140.8,722.5 L141.7,721.3 L142.5,720.0 L143.2,718.7 L143.9,717.4 L144.6,716.0 L145.2,714.7 L145.8,713.2 L146.4,711.8 L146.9,710.4 L147.4,708.9 L147.9,707.4 L148.3,705.9 L148.7,704.4 L149.1,702.9 L149.5,701.4 L149.8,699.8 L150.2,698.3 L150.5,696.8 L150.8,695.3 L151.1,693.8 L151.4,692.4 L151.7,690.9 L152.0,689.4 L152.3,687.9 L152.6,686.5 L152.9,685.0 L153.2,683.5 L153.4,682.1 L153.7,680.6 L154.1,679.2 L154.4,677.7 L154.7,676.2 L155.1,674.8 L155.4,673.3 L155.8,671.9 L156.2,670.4 L156.6,669.0 L157.1,667.5 L157.6,666.0 L158.1,664.6 L158.7,663.4 L159.4,662.6 L160.2,662.5 L161.1,662.9 L162.0,663.9 L162.8,665.2 L163.5,666.8 L164.1,668.5 L164.6,670.2 L165.2,671.9 L165.7,673.4 L166.1,674.9 L166.6,676.4 L167.0,677.8 L167.4,679.2 L167.8,680.6 L168.2,682.0 L168.5,683.4 L168.8,684.9 L169.1,686.3 L169.4,687.8 L169.7,689.3 L169.9,690.7 L170.2,692.2 L170.5,693.7 L170.8,695.2 L171.1,696.7 L171.4,698.2 L171.8,699.7 L172.2,701.2 L172.7,702.6 L173.2,704.1 L173.7,705.5 L174.3,706.9 L175.0,708.3 L175.7,709.6 L176.4,711.0 L177.2,712.3 L178.0,713.5 L178.9,714.8 L179.9,716.0 L180.8,717.1 L181.8,718.3 L182.9,719.4 L183.9,720.4 L185.1,721.4 L186.2,722.4 L187.4,723.3 L188.6,724.2 L189.8,725.0 L191.0,725.8 L192.3,726.5 L193.6,727.3 L194.9,727.9 L196.2,728.6 L197.6,729.2 L199.0,729.7 L200.4,730.3 L201.8,730.8 L203.2,731.2 L204.6,731.7 L206.1,732.1 L207.5,732.5 L209.0,732.9 L210.5,733.2 L212.0,733.6 L213.5,733.9 L215.0,734.2 L216.5,734.5 L218.1,734.7 L219.6,735.0 L221.1,735.2 L222.7,735.4 L224.2,735.6 L225.7,735.8 L227.3,736.0 L228.8,736.2 L230.3,736.4 L231.8,736.6 L233.4,736.8 L234.9,737.0 L236.4,737.1 L237.9,737.3 L239.4,737.5 L240.9,737.6 L242.4,737.8 L243.9,738.0 L245.4,738.1 L246.9,738.3 L248.4,738.4 L249.8,738.6 L251.3,738.7 L252.8,738.8 L254.3,739.0 L255.8,739.1 L257.3,739.2 L258.8,739.3 L260.2,739.4 L261.7,739.5 L263.2,739.7 L264.7,739.8 L266.2,739.8 L267.7,739.9 L269.2,740.0 L270.7,740.1 L272.2,740.2 L273.7,740.2 L275.2,740.3 L276.7,740.4 L278.2,740.4 L279.7,740.5 L281.2,740.5 L282.8,740.6 L284.3,740.6 L285.8,740.6 L287.4,740.6 L288.9,740.7 L290.4,740.7 L292.0,740.7 L293.6,740.7 " stroke="#ff0000" stroke-width="2.40" fill="none" stroke-linejoin="round" stroke-linecap="butt"/>
<path d="M293.4,740.5 L294.4,739.4 L295.3,738.2 L296.3,737.0 L297.2,735.8 L298.2,734.6 L299.1,733.4 L300.0,732.2 L300.9,731.0 L301.8,729.8 L302.7,728.6 L303.6,727.3 L304.4,726.1 L305.3,724.8 L306.1,723.6 L306.9,722.3 L307.7,721.0 L308.5,719.7 L309.2,718.4 L310.0,717.1 L310.7,715.8 L311.3,714.5 L312.0,713.1 L312.6,711.8 L313.2,710.4 L313.8,709.0 L314.4,707.6 L314.9,706.2 L315.4,704.7 L315.9,703.3 L316.4,701.8 L316.8,700.4 L317.2,698.9 L317.6,697.5 L318.1,696.0 L318.4,694.5 L318.8,693.0 L319.2,691.6 L319.6,690.1 L319.9,688.6 L320.3,687.2 L320.7,685.7 L321.0,684.3 L321.4,682.8 L321.8,681.4 L322.1,679.9 L322.5,678.5 L322.9,677.0 L323.3,675.5 L323.7,674.0 L324.2,672.5 L324.6,671.0 L325.1,669.4 L325.6,667.8 L326.1,666.2 L326.6,664.7 L327.2,663.4 L327.9,662.7 L328.7,662.6 L329.5,663.1 L330.4,664.2 L331.2,665.4 L331.8,666.6 L332.5,668.0 L333.0,669.4 L333.5,670.9 L333.9,672.3 L334.4,673.9 L334.8,675.4 L335.2,676.9 L335.5,678.4 L336.0,680.0 L336.4,681.5 L336.8,683.0 L337.2,684.5 L337.6,685.9 L338.1,687.4 L338.6,688.9 L339.0,690.3 L339.5,691.8 L340.0,693.2 L340.5,694.6 L341.1,696.1 L341.6,697.4 L342.2,698.8 L342.8,700.2 L343.5,701.6 L344.1,702.9 L344.8,704.2 L345.5,705.6 L346.2,706.9 L347.0,708.2 L347.7,709.4 L348.6,710.7 L349.4,711.9 L350.3,713.2 L351.2,714.4 L352.1,715.6 L353.1,716.7 L354.1,717.9 L355.1,719.0 L356.2,720.1 L357.2,721.1 L358.3,722.2 L359.5,723.2 L360.6,724.1 L361.8,725.1 L363.0,726.0 L364.2,726.9 L365.5,727.7 L366.7,728.5 L368.0,729.3 L369.3,730.0 L370.7,730.7 L372.0,731.3 L373.4,731.9 L374.8,732.5 L376.2,733.0 L377.6,733.4 L379.1,733.9 L380.5,734.3 L382.0,734.6 L383.5,734.9 L385.0,735.2 L386.5,735.5 L388.0,735.7 L389.5,736.0 L391.0,736.2 L392.6,736.3 L394.1,736.5 L395.6,736.6 L397.2,736.8 L398.7,736.9 L400.3,737.0 L401.8,737.1 L403.3,737.2 L404.9,737.3 L406.4,737.4 L407.9,737.5 L409.4,737.7 L410.9,737.8 L412.4,737.9 L413.9,738.0 L415.4,738.2 L416.9,738.3 L418.3,738.5 L419.8,738.7 L421.2,739.0 " stroke="#ff0000" stroke-width="2.40" fill="none" stroke-linejoin="round" stroke-linecap="butt"/>
<path d="M101.6,741.3 L103.0,740.5 L104.4,739.7 L105.7,738.9 L107.0,738.1 L108.3,737.2 L109.6,736.3 L110.8,735.4 L112.1,734.5 L113.3,733.5 L114.4,732.6 L115.6,731.6 L116.7,730.6 L117.8,729.6 L118.9,728.5 L120.0,727.5 L121.0,726.4 L122.0,725.3 L123.0,724.2 L124.0,723.1 L125.0,722.0 L125.9,720.8 L126.8,719.7 L127.7,718.5 L128.6,717.3 L129.5,716.1 L130.3,714.9 L131.2,713.6 L132.0,712.4 L132.8,711.1 L133.5,709.9 L134.3,708.6 L135.0,707.3 L135.7,706.0 L136.5,704.7 L137.1,703.3 L137.8,702.0 L138.5,700.7 L139.1,699.3 L139.7,697.9 L140.4,696.6 L141.0,695.2 L141.5,693.8 L142.1,692.4 L142.7,691.0 L143.2,689.5 L143.8,688.1 L144.3,686.7 L144.8,685.2 L145.3,683.8 L145.8,682.4 L146.2,680.9 L146.7,679.4 L147.1,678.0 L147.6,676.5 L148.0,675.0 L148.4,673.5 L148.8,672.1 L149.2,670.6 L149.6,669.1 L150.0,667.6 L150.4,666.1 L150.7,664.6 L151.1,663.1 L151.4,661.6 L151.8,660.1 L152.1,658.6 L152.4,657.1 L152.7,655.6 L153.0,654.1 L153.4,652.6 L153.7,651.1 L154.1,649.7 L154.5,648.2 L154.9,646.9 L155.5,645.5 L156.1,644.3 L156.9,643.0 L157.8,641.9 L158.7,640.9 L159.7,640.4 L160.6,640.6 L161.4,641.4 L162.1,642.6 L162.8,644.0 L163.3,645.4 L163.8,646.9 L164.3,648.4 L164.7,649.9 L165.1,651.4 L165.4,653.0 L165.8,654.5 L166.1,656.1 L166.4,657.6 L166.7,659.2 L167.0,660.7 L167.4,662.2 L167.8,663.6 L168.2,665.0 L168.6,666.4 L169.0,667.8 L169.4,669.2 L169.9,670.6 L170.3,672.0 L170.7,673.4 L171.1,674.8 L171.5,676.2 L171.9,677.7 L172.3,679.2 L172.6,680.7 L173.0,682.2 L173.4,683.7 L173.8,685.2 L174.2,686.7 L174.6,688.2 L175.0,689.7 L175.4,691.2 L175.9,692.7 L176.4,694.1 L177.0,695.5 L177.6,696.9 L178.2,698.3 L178.9,699.6 L179.6,700.9 L180.4,702.2 L181.3,703.4 L182.2,704.5 L183.1,705.6 L184.2,706.7 L185.3,707.7 L186.4,708.7 L187.6,709.6 L188.8,710.5 L190.0,711.4 L191.3,712.2 L192.6,713.0 L193.9,713.7 L195.3,714.4 L196.6,715.1 L198.0,715.7 L199.4,716.3 L200.8,716.9 L202.2,717.4 L203.6,717.9 L205.1,718.4 L206.5,718.9 L207.9,719.3 L209.4,719.7 L210.8,720.1 L212.3,720.4 L213.8,720.8 L215.2,721.1 L216.7,721.4 L218.2,721.7 L219.7,721.9 L221.2,722.2 L222.7,722.4 L224.2,722.6 L225.7,722.8 L227.2,723.0 L228.7,723.2 L230.2,723.4 L231.7,723.5 L233.2,723.7 L234.8,723.8 L236.3,724.0 L237.8,724.1 L239.3,724.3 L240.8,724.4 L242.3,724.5 L243.8,724.7 L245.3,724.8 L246.8,724.9 L248.3,725.0 L249.8,725.2 L251.4,725.3 L252.9,725.4 L254.4,725.5 L255.9,725.7 L257.4,725.8 L258.9,725.9 L260.4,726.0 L261.9,726.1 L263.4,726.2 L264.9,726.3 L266.4,726.4 L267.9,726.5 L269.4,726.6 L270.9,726.7 L272.4,726.8 L273.9,726.9 L275.4,727.0 L276.9,727.1 L278.4,727.2 L279.9,727.3 L281.4,727.4 L282.9,727.5 L284.4,727.5 L285.9,727.6 L287.4,727.7 L289.0,727.8 L290.5,727.8 L292.0,727.9 L293.5,728.0 " stroke="#0000ff" stroke-width="2.40" fill="none" stroke-linejoin="round" stroke-linecap="butt"/>
<path d="M293.6,728.4 L295.0,727.7 L296.3,727.0 L297.5,726.2 L298.7,725.2 L299.7,724.2 L300.6,723.1 L301.5,721.9 L302.3,720.7 L303.0,719.4 L303.7,718.0 L304.4,716.7 L305.0,715.2 L305.6,713.8 L306.1,712.4 L306.7,710.9 L307.2,709.5 L307.8,708.0 L308.3,706.6 L308.8,705.2 L309.4,703.7 L309.9,702.3 L310.4,700.9 L311.0,699.5 L311.5,698.1 L312.0,696.7 L312.5,695.3 L313.1,693.9 L313.6,692.5 L314.1,691.1 L314.6,689.6 L315.1,688.2 L315.6,686.8 L316.0,685.4 L316.5,684.0 L317.0,682.5 L317.4,681.1 L317.9,679.7 L318.3,678.2 L318.8,676.7 L319.2,675.3 L319.6,673.8 L320.0,672.3 L320.4,670.8 L320.7,669.4 L321.1,667.9 L321.4,666.4 L321.7,664.9 L322.0,663.4 L322.3,661.9 L322.5,660.5 L322.7,659.0 L322.9,657.6 L323.1,656.1 L323.3,654.7 L323.5,653.2 L323.9,651.6 L324.4,650.0 L325.2,648.4 L326.1,646.8 L327.0,645.4 L328.0,644.4 L328.8,644.1 L329.6,644.2 L330.3,644.9 L331.0,645.9 L331.6,647.2 L332.2,648.6 L332.7,650.2 L333.2,651.8 L333.7,653.4 L334.1,654.9 L334.6,656.5 L335.0,658.0 L335.5,659.5 L335.9,661.0 L336.3,662.5 L336.7,663.9 L337.1,665.4 L337.5,666.8 L337.9,668.3 L338.3,669.7 L338.7,671.1 L339.1,672.6 L339.5,674.0 L339.9,675.4 L340.3,676.8 L340.7,678.2 L341.2,679.6 L341.6,681.0 L342.1,682.4 L342.5,683.9 L343.0,685.3 L343.5,686.7 L344.0,688.1 L344.6,689.6 L345.1,691.0 L345.7,692.5 L346.3,693.9 L347.0,695.3 L347.6,696.7 L348.3,698.1 L349.1,699.5 L349.9,700.8 L350.7,702.1 L351.5,703.3 L352.4,704.6 L353.3,705.7 L354.3,706.9 L355.3,707.9 L356.4,708.9 L357.5,709.9 L358.7,710.8 L359.9,711.7 L361.1,712.5 L362.4,713.3 L363.7,714.0 L365.0,714.7 L366.4,715.3 L367.8,715.9 L369.2,716.5 L370.6,717.0 L372.0,717.5 L373.5,718.0 L375.0,718.5 L376.5,718.9 L378.0,719.3 L379.5,719.7 L381.0,720.0 L382.5,720.4 L384.0,720.7 L385.5,721.0 L387.0,721.3 L388.5,721.6 L390.0,721.9 L391.4,722.2 L392.9,722.4 L394.4,722.7 L395.9,722.9 L397.3,723.2 L398.8,723.4 L400.3,723.6 L401.7,723.8 L403.2,724.0 L404.7,724.2 L406.2,724.4 L407.6,724.5 L409.1,724.7 L410.6,724.8 L412.1,725.0 L413.6,725.1 L415.2,725.2 L416.7,725.4 L418.2,725.5 L419.8,725.6 L421.4,725.7 " stroke="#0000ff" stroke-width="2.40" fill="none" stroke-linejoin="round" stroke-linecap="butt"/>
<path d="M102.3,740.6 L103.7,740.4 L105.1,740.2 L106.6,740.1 L108.1,740.0 L109.6,739.9 L111.1,739.9 L112.7,739.9 L114.2,739.9 L115.8,740.0 L117.4,740.0 L118.9,740.0 L120.5,740.0 L122.1,740.0 L123.6,739.9 L125.2,739.8 L126.7,739.7 L128.2,739.4 L129.6,739.2 L131.1,738.8 L132.5,738.4 L133.8,737.8 L135.1,737.2 L136.4,736.5 L137.6,735.7 L138.8,734.8 L139.9,733.8 L141.0,732.8 L142.1,731.7 L143.0,730.6 L144.0,729.4 L144.9,728.2 L145.7,726.9 L146.5,725.7 L147.2,724.4 L147.9,723.1 L148.6,721.7 L149.2,720.4 L149.8,719.0 L150.3,717.6 L150.8,716.2 L151.3,714.8 L151.7,713.4 L152.1,711.9 L152.5,710.4 L152.8,708.9 L153.2,707.5 L153.5,706.0 L153.8,704.5 L154.0,702.9 L154.3,701.4 L154.5,699.9 L154.8,698.4 L155.0,696.9 L155.2,695.3 L155.4,693.8 L155.6,692.3 L155.8,690.8 L156.0,689.2 L156.1,687.7 L156.3,686.2 L156.5,684.7 L156.7,683.2 L156.9,681.8 L157.1,680.3 L157.3,678.8 L157.6,677.3 L157.8,675.9 L158.0,674.4 L158.2,672.9 L158.4,671.5 L158.7,670.0 L158.9,668.5 L159.1,667.1 L159.4,665.6 L159.6,664.1 L159.9,662.7 L160.1,661.2 L160.4,659.7 L160.6,658.2 L160.9,656.7 L161.2,655.2 L161.4,653.7 L161.7,652.2 L162.0,650.7 L162.3,649.2 L162.6,647.6 L162.9,646.1 L163.2,644.5 L163.5,642.9 L163.8,641.3 L164.1,639.7 L164.4,638.1 L164.8,636.6 L165.3,635.3 L165.9,634.3 L166.7,633.7 L167.8,633.4 L169.1,633.7 L170.3,634.5 L171.3,635.5 L172.1,636.8 L172.7,638.2 L173.3,639.7 L173.9,641.2 L174.5,642.7 L175.0,644.1 L175.6,645.6 L176.2,647.0 L176.8,648.5 L177.4,649.9 L178.0,651.3 L178.6,652.7 L179.2,654.1 L179.9,655.4 L180.5,656.8 L181.2,658.1 L181.8,659.5 L182.5,660.8 L183.2,662.2 L183.9,663.5 L184.6,664.8 L185.4,666.1 L186.1,667.4 L186.9,668.6 L187.7,669.9 L188.5,671.2 L189.3,672.4 L190.2,673.7 L191.0,674.9 L191.9,676.1 L192.8,677.3 L193.7,678.5 L194.7,679.7 L195.6,680.9 L196.6,682.1 L197.6,683.2 L198.6,684.4 L199.6,685.5 L200.6,686.6 L201.7,687.7 L202.8,688.8 L203.8,689.8 L204.9,690.9 L206.0,691.9 L207.2,693.0 L208.3,694.0 L209.4,695.0 L210.6,695.9 L211.7,696.9 L212.9,697.8 L214.1,698.8 L215.3,699.7 L216.5,700.6 L217.8,701.4 L219.0,702.3 L220.2,703.1 L221.5,704.0 L222.8,704.8 L224.0,705.6 L225.3,706.4 L226.6,707.2 L227.9,707.9 L229.2,708.7 L230.5,709.4 L231.9,710.1 L233.2,710.8 L234.5,711.5 L235.9,712.2 L237.2,712.9 L238.6,713.5 L240.0,714.2 L241.4,714.8 L242.7,715.4 L244.1,716.0 L245.5,716.6 L246.9,717.2 L248.3,717.7 L249.8,718.3 L251.2,718.8 L252.6,719.3 L254.0,719.9 L255.5,720.4 L256.9,720.9 L258.3,721.4 L259.8,721.8 L261.2,722.3 L262.7,722.7 L264.1,723.2 L265.6,723.6 L267.0,724.0 L268.5,724.5 L269.9,724.9 L271.4,725.2 L272.9,725.6 L274.3,726.0 L275.8,726.4 L277.3,726.7 L278.7,727.1 L280.2,727.4 L281.7,727.8 L283.1,728.1 L284.6,728.4 L286.1,728.7 L287.5,729.0 L289.0,729.3 L290.5,729.6 L291.9,729.8 L293.4,730.1 " stroke="#e8a2e8" stroke-width="2.40" fill="none" stroke-linejoin="round" stroke-linecap="butt"/>
<path d="M293.6,730.4 L294.9,730.8 L296.3,731.0 L297.8,731.2 L299.3,731.2 L300.9,731.2 L302.5,731.0 L304.1,730.8 L305.6,730.4 L307.2,730.0 L308.6,729.4 L310.0,728.7 L311.2,727.9 L312.3,727.0 L313.3,725.9 L314.2,724.8 L315.0,723.5 L315.7,722.2 L316.3,720.9 L316.8,719.4 L317.3,718.0 L317.7,716.5 L318.1,715.0 L318.6,713.4 L318.9,711.9 L319.3,710.4 L319.7,708.9 L320.1,707.5 L320.5,706.0 L320.8,704.5 L321.2,703.0 L321.5,701.5 L321.9,700.0 L322.2,698.6 L322.5,697.1 L322.9,695.6 L323.2,694.2 L323.5,692.7 L323.8,691.2 L324.1,689.8 L324.4,688.3 L324.7,686.8 L325.0,685.4 L325.3,683.9 L325.6,682.4 L325.9,681.0 L326.1,679.5 L326.4,678.0 L326.7,676.5 L326.9,675.1 L327.2,673.6 L327.4,672.1 L327.7,670.6 L327.9,669.1 L328.2,667.6 L328.4,666.1 L328.7,664.6 L328.9,663.1 L329.1,661.6 L329.3,660.1 L329.6,658.5 L329.8,657.0 L330.0,655.5 L330.2,653.9 L330.5,652.3 L330.7,650.8 L330.9,649.2 L331.1,647.6 L331.3,646.0 L331.5,644.4 L331.8,642.9 L332.1,641.4 L332.5,639.9 L332.9,638.5 L333.5,637.2 L334.2,636.0 L335.0,635.0 L336.0,634.2 L337.0,634.0 L338.2,634.3 L339.3,635.0 L340.3,635.8 L341.2,636.9 L342.0,638.0 L342.8,639.3 L343.5,640.7 L344.2,642.1 L344.9,643.6 L345.5,645.2 L346.2,646.7 L346.8,648.2 L347.4,649.7 L348.1,651.2 L348.7,652.7 L349.4,654.1 L350.1,655.5 L350.8,656.8 L351.5,658.2 L352.2,659.5 L353.0,660.8 L353.7,662.1 L354.5,663.3 L355.2,664.6 L356.0,665.9 L356.8,667.1 L357.6,668.4 L358.4,669.6 L359.3,670.8 L360.1,672.1 L361.0,673.3 L361.8,674.5 L362.7,675.8 L363.6,677.0 L364.5,678.2 L365.5,679.4 L366.4,680.6 L367.3,681.8 L368.3,682.9 L369.3,684.1 L370.3,685.2 L371.3,686.4 L372.3,687.5 L373.3,688.6 L374.3,689.8 L375.4,690.9 L376.5,692.0 L377.5,693.0 L378.6,694.1 L379.7,695.1 L380.8,696.2 L382.0,697.2 L383.1,698.2 L384.3,699.2 L385.4,700.2 L386.6,701.1 L387.8,702.1 L389.0,703.0 L390.2,703.9 L391.4,704.8 L392.7,705.7 L393.9,706.6 L395.2,707.4 L396.4,708.2 L397.7,709.0 L399.0,709.8 L400.3,710.6 L401.7,711.3 L403.0,712.0 L404.3,712.7 L405.7,713.4 L407.1,714.1 L408.4,714.7 L409.8,715.3 L411.2,715.9 L412.7,716.5 L414.1,717.0 L415.5,717.5 L417.0,718.0 L418.4,718.5 L419.9,718.9 L421.4,719.3 " stroke="#e8a2e8" stroke-width="2.40" fill="none" stroke-linejoin="round" stroke-linecap="butt"/>
<path d="M101.5,741.4 L102.7,740.9 L103.9,740.4 L105.2,740.1 L106.5,739.8 L107.9,739.6 L109.3,739.4 L110.8,739.3 L112.3,739.2 L113.8,739.2 L115.4,739.1 L116.9,739.1 L118.5,739.1 L120.2,739.1 L121.8,739.1 L123.4,739.0 L125.0,739.0 L126.6,738.9 L128.2,738.7 L129.8,738.6 L131.4,738.4 L132.9,738.1 L134.4,737.7 L135.9,737.3 L137.3,736.9 L138.6,736.3 L140.0,735.7 L141.2,734.9 L142.4,734.1 L143.5,733.2 L144.5,732.3 L145.5,731.2 L146.4,730.1 L147.2,728.9 L147.9,727.6 L148.6,726.3 L149.2,725.0 L149.8,723.6 L150.4,722.2 L150.9,720.7 L151.4,719.3 L151.9,717.8 L152.3,716.3 L152.8,714.9 L153.2,713.4 L153.7,711.9 L154.1,710.5 L154.5,709.0 L154.8,707.5 L155.2,706.1 L155.6,704.6 L155.9,703.1 L156.2,701.6 L156.6,700.2 L156.9,698.7 L157.2,697.2 L157.5,695.7 L157.7,694.2 L158.0,692.7 L158.3,691.3 L158.5,689.8 L158.8,688.3 L159.0,686.8 L159.3,685.3 L159.5,683.8 L159.7,682.3 L159.9,680.8 L160.1,679.4 L160.3,677.9 L160.5,676.4 L160.7,674.9 L160.9,673.4 L161.1,671.9 L161.3,670.4 L161.5,668.9 L161.7,667.4 L161.8,665.9 L162.0,664.4 L162.2,662.9 L162.4,661.4 L162.5,659.9 L162.7,658.4 L162.9,656.9 L163.1,655.4 L163.2,653.9 L163.4,652.3 L163.6,650.8 L163.8,649.3 L164.0,647.8 L164.1,646.3 L164.3,644.8 L164.5,643.3 L164.7,641.8 L164.9,640.3 L165.1,638.8 L165.3,637.3 L165.6,635.7 L165.8,634.2 L166.0,632.7 L166.3,631.2 L166.5,629.7 L166.8,628.2 L167.0,626.7 L167.3,625.2 L167.6,623.7 L167.9,622.2 L168.3,620.7 L168.6,619.2 L169.0,617.7 L169.4,616.3 L169.8,614.8 L170.3,613.4 L170.8,612.0 L171.3,610.6 L171.8,609.2 L172.4,607.8 L173.0,606.4 L173.7,605.1 L174.4,603.7 L175.1,602.4 L175.9,601.1 L176.7,599.9 L177.6,598.6 L178.5,597.5 L179.5,596.3 L180.5,595.2 L181.6,594.1 L182.7,593.1 L183.8,592.2 L185.0,591.3 L186.3,590.5 L187.6,589.8 L188.9,589.1 L190.3,588.4 L191.7,587.8 L193.1,587.3 L194.5,586.7 L196.0,586.2 L197.4,585.7 L198.8,585.2 L200.3,584.8 L201.7,584.3 L203.2,583.9 L204.6,583.5 L206.1,583.1 L207.6,582.8 L209.0,582.4 L210.5,582.1 L212.0,581.8 L213.5,581.5 L214.9,581.2 L216.4,580.9 L217.9,580.7 L219.4,580.4 L220.9,580.2 L222.4,580.0 L223.9,579.8 L225.4,579.6 L226.9,579.4 L228.4,579.3 L229.9,579.1 L231.4,579.0 L232.9,578.8 L234.4,578.7 L236.0,578.6 L237.5,578.5 L239.0,578.4 L240.5,578.3 L242.0,578.2 L243.5,578.1 L245.1,578.1 L246.6,578.0 L248.1,577.9 L249.6,577.9 L251.2,577.8 L252.7,577.8 L254.2,577.7 L255.7,577.7 L257.2,577.7 L258.8,577.6 L260.3,577.6 L261.8,577.6 L263.3,577.5 L264.8,577.5 L266.4,577.5 L267.9,577.4 L269.4,577.4 L270.9,577.4 L272.4,577.3 L273.9,577.3 L275.5,577.2 L277.0,577.2 L278.5,577.1 L280.0,577.1 L281.5,577.0 L283.0,577.0 L284.5,576.9 L286.0,576.8 L287.5,576.7 L289.0,576.6 L290.5,576.5 L291.9,576.4 L293.4,576.3 " stroke="#000000" stroke-width="2.40" fill="none" stroke-linejoin="round" stroke-linecap="butt"/>
<path d="M293.1,741.0 L294.6,740.6 L296.1,740.1 L297.5,739.6 L299.0,739.0 L300.4,738.4 L301.8,737.8 L303.2,737.1 L304.5,736.4 L305.8,735.6 L307.1,734.8 L308.3,733.9 L309.5,733.0 L310.6,732.1 L311.7,731.0 L312.7,730.0 L313.7,728.8 L314.5,727.7 L315.4,726.4 L316.1,725.2 L316.9,723.9 L317.5,722.5 L318.2,721.2 L318.7,719.8 L319.3,718.4 L319.8,717.0 L320.4,715.5 L320.8,714.1 L321.3,712.7 L321.8,711.2 L322.2,709.8 L322.7,708.3 L323.1,706.9 L323.5,705.4 L323.9,704.0 L324.2,702.5 L324.6,701.0 L325.0,699.6 L325.3,698.1 L325.6,696.6 L325.9,695.1 L326.2,693.7 L326.5,692.2 L326.8,690.7 L327.1,689.2 L327.4,687.7 L327.6,686.2 L327.9,684.8 L328.1,683.3 L328.3,681.8 L328.6,680.3 L328.8,678.8 L329.0,677.3 L329.2,675.8 L329.4,674.3 L329.6,672.8 L329.8,671.3 L330.0,669.8 L330.2,668.3 L330.3,666.8 L330.5,665.3 L330.7,663.7 L330.9,662.2 L331.1,660.7 L331.2,659.2 L331.4,657.7 L331.6,656.2 L331.8,654.7 L331.9,653.2 L332.1,651.7 L332.3,650.2 L332.5,648.7 L332.7,647.2 L332.9,645.7 L333.1,644.2 L333.3,642.7 L333.5,641.2 L333.7,639.7 L333.9,638.2 L334.2,636.7 L334.4,635.2 L334.7,633.8 L334.9,632.3 L335.2,630.8 L335.5,629.3 L335.8,627.8 L336.1,626.4 L336.5,624.9 L336.8,623.4 L337.2,622.0 L337.6,620.5 L338.0,619.0 L338.4,617.6 L338.8,616.1 L339.3,614.7 L339.7,613.2 L340.2,611.8 L340.8,610.4 L341.3,608.9 L341.9,607.5 L342.5,606.1 L343.1,604.7 L343.7,603.4 L344.4,602.0 L345.2,600.7 L345.9,599.4 L346.7,598.2 L347.6,597.0 L348.5,595.8 L349.4,594.7 L350.4,593.6 L351.5,592.6 L352.6,591.7 L353.7,590.8 L354.9,590.0 L356.2,589.2 L357.5,588.4 L358.8,587.7 L360.2,587.1 L361.5,586.5 L363.0,585.9 L364.4,585.4 L365.9,584.9 L367.4,584.5 L368.9,584.0 L370.4,583.7 L371.9,583.3 L373.5,582.9 L375.0,582.6 L376.5,582.3 L378.1,582.1 L379.6,581.8 L381.1,581.6 L382.6,581.3 L384.1,581.1 L385.6,580.9 L387.1,580.7 L388.6,580.5 L390.1,580.3 L391.5,580.2 L393.0,580.0 L394.4,579.9 L395.9,579.7 L397.3,579.6 L398.8,579.4 L400.2,579.3 L401.7,579.2 L403.1,579.1 L404.6,579.0 L406.1,578.9 L407.6,578.8 L409.1,578.7 L410.6,578.6 L412.1,578.5 L413.6,578.4 L415.1,578.3 L416.7,578.2 L418.3,578.1 L419.9,578.0 L421.5,577.9 " stroke="#000000" stroke-width="2.40" fill="none" stroke-linejoin="round" stroke-linecap="butt"/>
<path d="M293.5,576.5 V742.4" stroke="#00ff00" stroke-width="2.3" fill="none"/>
</svg>
</body></html>
